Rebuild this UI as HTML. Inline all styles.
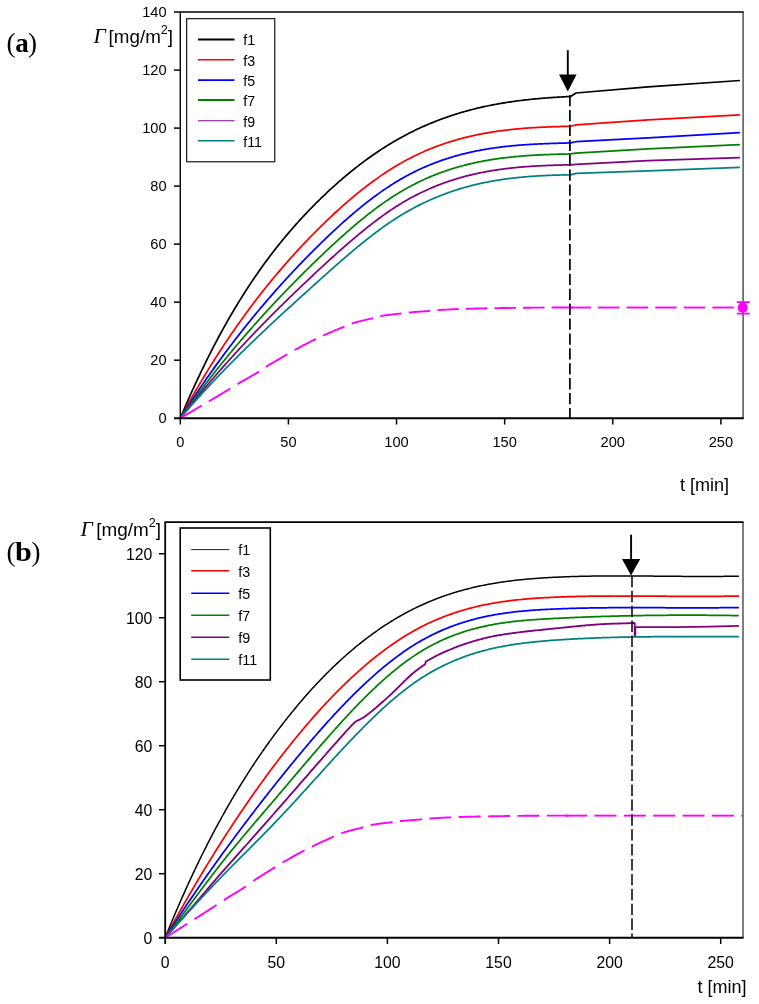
<!DOCTYPE html>
<html><head><meta charset="utf-8"><title>chart</title>
<style>html,body{margin:0;padding:0;background:#fff}svg{display:block;will-change:transform}text{font-family:"Liberation Sans",sans-serif;fill:#000}.se{font-family:"Liberation Serif",serif}</style></head><body>
<svg width="759" height="1004" viewBox="0 0 759 1004">
<rect width="759" height="1004" fill="#fff"/>
<path d="M180.30,418.20 L181.38,415.63 L182.46,413.08 L183.54,410.54 L184.62,408.02 L185.71,405.52 L186.79,403.03 L187.87,400.57 L188.95,398.12 L190.03,395.68 L191.11,393.27 L192.19,390.86 L193.27,388.48 L194.36,386.11 L195.44,383.76 L196.52,381.43 L197.60,379.11 L198.68,376.81 L199.76,374.52 L200.84,372.25 L201.92,370.00 L203.01,367.76 L204.09,365.54 L205.17,363.33 L206.25,361.14 L207.33,358.96 L208.41,356.80 L209.49,354.65 L210.57,352.52 L211.65,350.41 L212.74,348.31 L213.82,346.22 L214.90,344.15 L215.98,342.09 L217.06,340.05 L218.14,338.02 L219.22,336.01 L220.30,334.01 L221.39,332.03 L222.47,330.06 L223.55,328.10 L224.63,326.16 L225.71,324.23 L226.79,322.32 L227.87,320.42 L228.95,318.53 L230.04,316.65 L231.12,314.79 L232.20,312.95 L233.28,311.11 L234.36,309.29 L235.44,307.49 L236.52,305.69 L237.60,303.91 L238.68,302.14 L239.77,300.39 L240.85,298.64 L241.93,296.91 L243.01,295.19 L244.09,293.49 L245.17,291.80 L246.25,290.11 L247.33,288.45 L248.42,286.79 L249.50,285.14 L250.58,283.51 L251.66,281.89 L252.74,280.28 L253.82,278.68 L254.90,277.09 L255.98,275.52 L257.07,273.95 L258.15,272.40 L259.23,270.86 L260.31,269.33 L261.39,267.81 L262.47,266.30 L263.55,264.80 L264.63,263.31 L265.71,261.83 L266.80,260.37 L267.88,258.91 L268.96,257.46 L270.04,256.03 L271.12,254.60 L272.20,253.19 L273.28,251.78 L274.36,250.39 L275.45,249.00 L276.53,247.62 L277.61,246.26 L278.69,244.90 L279.77,243.55 L280.85,242.21 L281.93,240.88 L283.01,239.56 L284.10,238.25 L285.18,236.95 L286.26,235.66 L287.34,234.37 L288.42,233.10 L289.50,231.83 L290.58,230.57 L291.66,229.32 L292.74,228.08 L293.83,226.85 L294.91,225.62 L295.99,224.40 L297.07,223.20 L298.15,221.99 L299.23,220.80 L300.31,219.61 L301.39,218.44 L302.48,217.27 L303.56,216.10 L304.64,214.95 L305.72,213.80 L306.80,212.66 L307.88,211.52 L308.96,210.39 L310.04,209.27 L311.13,208.16 L312.21,207.05 L313.29,205.95 L314.37,204.86 L315.45,203.77 L316.53,202.69 L317.61,201.62 L318.69,200.55 L319.77,199.49 L320.86,198.43 L321.94,197.38 L323.02,196.34 L324.10,195.31 L325.18,194.28 L326.26,193.25 L327.34,192.24 L328.42,191.23 L329.51,190.22 L330.59,189.22 L331.67,188.23 L332.75,187.25 L333.83,186.27 L334.91,185.30 L335.99,184.33 L337.07,183.37 L338.16,182.41 L339.24,181.47 L340.32,180.53 L341.40,179.59 L342.48,178.66 L343.56,177.74 L344.64,176.82 L345.72,175.91 L346.80,175.01 L347.89,174.11 L348.97,173.22 L350.05,172.34 L351.13,171.46 L352.21,170.58 L353.29,169.72 L354.37,168.86 L355.45,168.00 L356.54,167.16 L357.62,166.31 L358.70,165.48 L359.78,164.65 L360.86,163.83 L361.94,163.01 L363.02,162.20 L364.10,161.39 L365.19,160.60 L366.27,159.80 L367.35,159.02 L368.43,158.24 L369.51,157.46 L370.59,156.69 L371.67,155.93 L372.75,155.18 L373.83,154.43 L374.92,153.68 L376.00,152.95 L377.08,152.21 L378.16,151.49 L379.24,150.77 L380.32,150.06 L381.40,149.35 L382.48,148.65 L383.57,147.95 L384.65,147.26 L385.73,146.58 L386.81,145.90 L387.89,145.23 L388.97,144.57 L390.05,143.91 L391.13,143.25 L392.22,142.61 L393.30,141.96 L394.38,141.33 L395.46,140.70 L396.54,140.08 L397.62,139.46 L398.70,138.85 L399.78,138.24 L400.86,137.64 L401.95,137.05 L403.03,136.46 L404.11,135.88 L405.19,135.30 L406.27,134.73 L407.35,134.16 L408.43,133.60 L409.51,133.05 L410.60,132.50 L411.68,131.96 L412.76,131.42 L413.84,130.89 L414.92,130.36 L416.00,129.84 L417.08,129.33 L418.16,128.82 L419.25,128.31 L420.33,127.81 L421.41,127.32 L422.49,126.83 L423.57,126.35 L424.65,125.87 L425.73,125.39 L426.81,124.93 L427.89,124.46 L428.98,124.00 L430.06,123.55 L431.14,123.10 L432.22,122.66 L433.30,122.22 L434.38,121.79 L435.46,121.36 L436.54,120.94 L437.63,120.52 L438.71,120.11 L439.79,119.70 L440.87,119.29 L441.95,118.89 L443.03,118.50 L444.11,118.11 L445.19,117.72 L446.28,117.34 L447.36,116.97 L448.44,116.59 L449.52,116.23 L450.60,115.86 L451.68,115.51 L452.76,115.15 L453.84,114.80 L454.92,114.46 L456.01,114.12 L457.09,113.78 L458.17,113.45 L459.25,113.12 L460.33,112.80 L461.41,112.48 L462.49,112.16 L463.57,111.85 L464.66,111.54 L465.74,111.24 L466.82,110.94 L467.90,110.65 L468.98,110.35 L470.06,110.07 L471.14,109.78 L472.22,109.50 L473.31,109.23 L474.39,108.96 L475.47,108.69 L476.55,108.43 L477.63,108.17 L478.71,107.91 L479.79,107.66 L480.87,107.41 L481.95,107.16 L483.04,106.92 L484.12,106.68 L485.20,106.45 L486.28,106.21 L487.36,105.99 L488.44,105.76 L489.52,105.54 L490.60,105.32 L491.69,105.11 L492.77,104.90 L493.85,104.69 L494.93,104.48 L496.01,104.28 L497.09,104.09 L498.17,103.89 L499.25,103.70 L500.34,103.51 L501.42,103.32 L502.50,103.14 L503.58,102.96 L504.66,102.79 L505.74,102.61 L506.82,102.44 L507.90,102.27 L508.98,102.11 L510.07,101.95 L511.15,101.79 L512.23,101.63 L513.31,101.48 L514.39,101.33 L515.47,101.18 L516.55,101.03 L517.63,100.89 L518.72,100.75 L519.80,100.61 L520.88,100.48 L521.96,100.34 L523.04,100.21 L524.12,100.09 L525.20,99.96 L526.28,99.84 L527.37,99.72 L528.45,99.60 L529.53,99.48 L530.61,99.37 L531.69,99.26 L532.77,99.15 L533.85,99.04 L534.93,98.94 L536.01,98.83 L537.10,98.73 L538.18,98.64 L539.26,98.54 L540.34,98.44 L541.42,98.35 L542.50,98.26 L543.58,98.17 L544.66,98.09 L545.75,98.00 L546.83,97.92 L547.91,97.84 L548.99,97.76 L550.07,97.68 L551.15,97.60 L552.23,97.53 L553.31,97.46 L554.40,97.39 L555.48,97.32 L556.56,97.25 L557.64,97.18 L558.72,97.12 L559.80,97.05 L560.88,96.99 L561.96,96.93 L563.04,96.87 L564.13,96.82 L565.21,96.76 L566.29,96.70 L567.37,96.65 L568.45,96.60 L569.53,96.55 L570.61,96.50 L576.02,93.00 L648.03,86.91 L739.93,80.52" fill="none" stroke="#000000" stroke-width="1.7" stroke-linejoin="round"/>
<path d="M180.30,418.20 L181.38,416.20 L182.46,414.22 L183.54,412.24 L184.62,410.27 L185.71,408.32 L186.79,406.37 L187.87,404.43 L188.95,402.50 L190.03,400.58 L191.11,398.67 L192.19,396.77 L193.27,394.88 L194.36,393.00 L195.44,391.13 L196.52,389.27 L197.60,387.42 L198.68,385.57 L199.76,383.74 L200.84,381.91 L201.92,380.10 L203.01,378.29 L204.09,376.49 L205.17,374.70 L206.25,372.92 L207.33,371.15 L208.41,369.39 L209.49,367.63 L210.57,365.89 L211.65,364.15 L212.74,362.43 L213.82,360.71 L214.90,359.00 L215.98,357.29 L217.06,355.60 L218.14,353.92 L219.22,352.24 L220.30,350.57 L221.39,348.91 L222.47,347.26 L223.55,345.62 L224.63,343.99 L225.71,342.36 L226.79,340.74 L227.87,339.13 L228.95,337.53 L230.04,335.94 L231.12,334.35 L232.20,332.77 L233.28,331.20 L234.36,329.64 L235.44,328.08 L236.52,326.54 L237.60,325.00 L238.68,323.47 L239.77,321.94 L240.85,320.43 L241.93,318.92 L243.01,317.42 L244.09,315.93 L245.17,314.44 L246.25,312.96 L247.33,311.49 L248.42,310.03 L249.50,308.57 L250.58,307.12 L251.66,305.68 L252.74,304.24 L253.82,302.82 L254.90,301.39 L255.98,299.98 L257.07,298.57 L258.15,297.17 L259.23,295.78 L260.31,294.39 L261.39,293.02 L262.47,291.64 L263.55,290.28 L264.63,288.92 L265.71,287.57 L266.80,286.22 L267.88,284.88 L268.96,283.55 L270.04,282.22 L271.12,280.90 L272.20,279.59 L273.28,278.28 L274.36,276.98 L275.45,275.69 L276.53,274.40 L277.61,273.12 L278.69,271.84 L279.77,270.57 L280.85,269.31 L281.93,268.05 L283.01,266.80 L284.10,265.55 L285.18,264.31 L286.26,263.08 L287.34,261.85 L288.42,260.63 L289.50,259.41 L290.58,258.20 L291.66,256.99 L292.74,255.79 L293.83,254.60 L294.91,253.41 L295.99,252.23 L297.07,251.05 L298.15,249.88 L299.23,248.71 L300.31,247.55 L301.39,246.39 L302.48,245.24 L303.56,244.09 L304.64,242.95 L305.72,241.82 L306.80,240.69 L307.88,239.56 L308.96,238.44 L310.04,237.32 L311.13,236.21 L312.21,235.11 L313.29,234.01 L314.37,232.91 L315.45,231.82 L316.53,230.73 L317.61,229.65 L318.69,228.57 L319.77,227.50 L320.86,226.43 L321.94,225.37 L323.02,224.31 L324.10,223.26 L325.18,222.21 L326.26,221.17 L327.34,220.13 L328.42,219.09 L329.51,218.07 L330.59,217.04 L331.67,216.03 L332.75,215.01 L333.83,214.01 L334.91,213.00 L335.99,212.01 L337.07,211.02 L338.16,210.03 L339.24,209.05 L340.32,208.08 L341.40,207.11 L342.48,206.14 L343.56,205.18 L344.64,204.23 L345.72,203.28 L346.80,202.34 L347.89,201.41 L348.97,200.48 L350.05,199.55 L351.13,198.63 L352.21,197.72 L353.29,196.81 L354.37,195.91 L355.45,195.02 L356.54,194.13 L357.62,193.24 L358.70,192.36 L359.78,191.49 L360.86,190.63 L361.94,189.77 L363.02,188.92 L364.10,188.07 L365.19,187.23 L366.27,186.39 L367.35,185.56 L368.43,184.74 L369.51,183.93 L370.59,183.12 L371.67,182.31 L372.75,181.52 L373.83,180.73 L374.92,179.94 L376.00,179.17 L377.08,178.40 L378.16,177.63 L379.24,176.87 L380.32,176.12 L381.40,175.38 L382.48,174.64 L383.57,173.91 L384.65,173.19 L385.73,172.47 L386.81,171.76 L387.89,171.06 L388.97,170.36 L390.05,169.67 L391.13,168.99 L392.22,168.31 L393.30,167.65 L394.38,166.98 L395.46,166.33 L396.54,165.68 L397.62,165.04 L398.70,164.41 L399.78,163.79 L400.86,163.17 L401.95,162.56 L403.03,161.95 L404.11,161.35 L405.19,160.76 L406.27,160.18 L407.35,159.60 L408.43,159.03 L409.51,158.47 L410.60,157.91 L411.68,157.36 L412.76,156.81 L413.84,156.28 L414.92,155.75 L416.00,155.22 L417.08,154.70 L418.16,154.19 L419.25,153.69 L420.33,153.19 L421.41,152.70 L422.49,152.21 L423.57,151.73 L424.65,151.25 L425.73,150.79 L426.81,150.32 L427.89,149.87 L428.98,149.42 L430.06,148.97 L431.14,148.54 L432.22,148.10 L433.30,147.68 L434.38,147.26 L435.46,146.84 L436.54,146.43 L437.63,146.03 L438.71,145.63 L439.79,145.24 L440.87,144.85 L441.95,144.47 L443.03,144.09 L444.11,143.72 L445.19,143.35 L446.28,142.99 L447.36,142.64 L448.44,142.29 L449.52,141.94 L450.60,141.61 L451.68,141.27 L452.76,140.94 L453.84,140.62 L454.92,140.30 L456.01,139.98 L457.09,139.67 L458.17,139.37 L459.25,139.07 L460.33,138.78 L461.41,138.48 L462.49,138.20 L463.57,137.92 L464.66,137.64 L465.74,137.37 L466.82,137.10 L467.90,136.84 L468.98,136.58 L470.06,136.33 L471.14,136.08 L472.22,135.83 L473.31,135.59 L474.39,135.36 L475.47,135.12 L476.55,134.89 L477.63,134.67 L478.71,134.45 L479.79,134.23 L480.87,134.02 L481.95,133.81 L483.04,133.61 L484.12,133.41 L485.20,133.21 L486.28,133.02 L487.36,132.83 L488.44,132.64 L489.52,132.46 L490.60,132.28 L491.69,132.11 L492.77,131.94 L493.85,131.77 L494.93,131.61 L496.01,131.45 L497.09,131.29 L498.17,131.13 L499.25,130.98 L500.34,130.84 L501.42,130.69 L502.50,130.55 L503.58,130.41 L504.66,130.28 L505.74,130.15 L506.82,130.02 L507.90,129.89 L508.98,129.77 L510.07,129.65 L511.15,129.53 L512.23,129.42 L513.31,129.30 L514.39,129.19 L515.47,129.09 L516.55,128.98 L517.63,128.88 L518.72,128.78 L519.80,128.69 L520.88,128.59 L521.96,128.50 L523.04,128.41 L524.12,128.33 L525.20,128.24 L526.28,128.16 L527.37,128.08 L528.45,128.00 L529.53,127.93 L530.61,127.85 L531.69,127.78 L532.77,127.71 L533.85,127.65 L534.93,127.58 L536.01,127.52 L537.10,127.46 L538.18,127.40 L539.26,127.34 L540.34,127.28 L541.42,127.23 L542.50,127.17 L543.58,127.12 L544.66,127.07 L545.75,127.02 L546.83,126.98 L547.91,126.93 L548.99,126.89 L550.07,126.84 L551.15,126.80 L552.23,126.76 L553.31,126.72 L554.40,126.68 L555.48,126.65 L556.56,126.61 L557.64,126.58 L558.72,126.54 L559.80,126.51 L560.88,126.48 L561.96,126.45 L563.04,126.42 L564.13,126.39 L565.21,126.36 L566.29,126.33 L567.37,126.31 L568.45,126.28 L569.53,126.25 L570.61,126.23 L576.02,124.91 L648.03,119.83 L739.93,114.76" fill="none" stroke="#ff0000" stroke-width="1.75" stroke-linejoin="round"/>
<path d="M180.30,418.20 L181.38,416.50 L182.46,414.80 L183.54,413.11 L184.62,411.43 L185.71,409.75 L186.79,408.08 L187.87,406.42 L188.95,404.76 L190.03,403.11 L191.11,401.47 L192.19,399.83 L193.27,398.20 L194.36,396.58 L195.44,394.96 L196.52,393.35 L197.60,391.74 L198.68,390.14 L199.76,388.55 L200.84,386.96 L201.92,385.38 L203.01,383.80 L204.09,382.23 L205.17,380.67 L206.25,379.11 L207.33,377.56 L208.41,376.02 L209.49,374.48 L210.57,372.95 L211.65,371.42 L212.74,369.90 L213.82,368.38 L214.90,366.87 L215.98,365.37 L217.06,363.87 L218.14,362.38 L219.22,360.89 L220.30,359.41 L221.39,357.94 L222.47,356.47 L223.55,355.01 L224.63,353.55 L225.71,352.10 L226.79,350.65 L227.87,349.21 L228.95,347.77 L230.04,346.34 L231.12,344.92 L232.20,343.50 L233.28,342.08 L234.36,340.68 L235.44,339.27 L236.52,337.88 L237.60,336.48 L238.68,335.10 L239.77,333.71 L240.85,332.34 L241.93,330.97 L243.01,329.60 L244.09,328.24 L245.17,326.88 L246.25,325.53 L247.33,324.19 L248.42,322.85 L249.50,321.51 L250.58,320.18 L251.66,318.85 L252.74,317.53 L253.82,316.22 L254.90,314.91 L255.98,313.60 L257.07,312.30 L258.15,311.00 L259.23,309.71 L260.31,308.43 L261.39,307.14 L262.47,305.87 L263.55,304.59 L264.63,303.33 L265.71,302.06 L266.80,300.81 L267.88,299.55 L268.96,298.30 L270.04,297.06 L271.12,295.82 L272.20,294.58 L273.28,293.35 L274.36,292.12 L275.45,290.90 L276.53,289.68 L277.61,288.47 L278.69,287.26 L279.77,286.06 L280.85,284.85 L281.93,283.66 L283.01,282.47 L284.10,281.28 L285.18,280.09 L286.26,278.91 L287.34,277.74 L288.42,276.57 L289.50,275.40 L290.58,274.24 L291.66,273.08 L292.74,271.92 L293.83,270.77 L294.91,269.63 L295.99,268.48 L297.07,267.34 L298.15,266.21 L299.23,265.08 L300.31,263.95 L301.39,262.83 L302.48,261.71 L303.56,260.59 L304.64,259.48 L305.72,258.37 L306.80,257.26 L307.88,256.16 L308.96,255.06 L310.04,253.97 L311.13,252.88 L312.21,251.79 L313.29,250.71 L314.37,249.63 L315.45,248.55 L316.53,247.48 L317.61,246.41 L318.69,245.34 L319.77,244.28 L320.86,243.22 L321.94,242.17 L323.02,241.12 L324.10,240.07 L325.18,239.03 L326.26,237.99 L327.34,236.95 L328.42,235.92 L329.51,234.89 L330.59,233.87 L331.67,232.85 L332.75,231.84 L333.83,230.83 L334.91,229.82 L335.99,228.82 L337.07,227.83 L338.16,226.84 L339.24,225.85 L340.32,224.87 L341.40,223.89 L342.48,222.92 L343.56,221.95 L344.64,220.99 L345.72,220.03 L346.80,219.08 L347.89,218.13 L348.97,217.19 L350.05,216.25 L351.13,215.32 L352.21,214.39 L353.29,213.47 L354.37,212.56 L355.45,211.64 L356.54,210.74 L357.62,209.84 L358.70,208.95 L359.78,208.06 L360.86,207.18 L361.94,206.30 L363.02,205.43 L364.10,204.57 L365.19,203.71 L366.27,202.86 L367.35,202.01 L368.43,201.17 L369.51,200.34 L370.59,199.51 L371.67,198.69 L372.75,197.88 L373.83,197.07 L374.92,196.27 L376.00,195.47 L377.08,194.68 L378.16,193.90 L379.24,193.13 L380.32,192.36 L381.40,191.60 L382.48,190.84 L383.57,190.09 L384.65,189.35 L385.73,188.62 L386.81,187.89 L387.89,187.17 L388.97,186.46 L390.05,185.76 L391.13,185.06 L392.22,184.37 L393.30,183.69 L394.38,183.01 L395.46,182.35 L396.54,181.69 L397.62,181.03 L398.70,180.39 L399.78,179.75 L400.86,179.12 L401.95,178.50 L403.03,177.89 L404.11,177.28 L405.19,176.68 L406.27,176.09 L407.35,175.50 L408.43,174.92 L409.51,174.35 L410.60,173.79 L411.68,173.23 L412.76,172.68 L413.84,172.14 L414.92,171.60 L416.00,171.07 L417.08,170.55 L418.16,170.03 L419.25,169.53 L420.33,169.02 L421.41,168.53 L422.49,168.04 L423.57,167.56 L424.65,167.08 L425.73,166.61 L426.81,166.15 L427.89,165.69 L428.98,165.24 L430.06,164.80 L431.14,164.36 L432.22,163.93 L433.30,163.50 L434.38,163.08 L435.46,162.67 L436.54,162.26 L437.63,161.86 L438.71,161.46 L439.79,161.07 L440.87,160.69 L441.95,160.31 L443.03,159.94 L444.11,159.57 L445.19,159.21 L446.28,158.86 L447.36,158.50 L448.44,158.16 L449.52,157.82 L450.60,157.49 L451.68,157.16 L452.76,156.83 L453.84,156.52 L454.92,156.20 L456.01,155.90 L457.09,155.59 L458.17,155.29 L459.25,155.00 L460.33,154.71 L461.41,154.43 L462.49,154.15 L463.57,153.88 L464.66,153.61 L465.74,153.35 L466.82,153.09 L467.90,152.83 L468.98,152.59 L470.06,152.34 L471.14,152.10 L472.22,151.86 L473.31,151.63 L474.39,151.40 L475.47,151.18 L476.55,150.96 L477.63,150.75 L478.71,150.54 L479.79,150.33 L480.87,150.13 L481.95,149.93 L483.04,149.73 L484.12,149.54 L485.20,149.36 L486.28,149.17 L487.36,148.99 L488.44,148.82 L489.52,148.65 L490.60,148.48 L491.69,148.32 L492.77,148.15 L493.85,148.00 L494.93,147.84 L496.01,147.69 L497.09,147.55 L498.17,147.40 L499.25,147.26 L500.34,147.12 L501.42,146.99 L502.50,146.86 L503.58,146.73 L504.66,146.61 L505.74,146.49 L506.82,146.37 L507.90,146.25 L508.98,146.14 L510.07,146.03 L511.15,145.92 L512.23,145.82 L513.31,145.71 L514.39,145.61 L515.47,145.52 L516.55,145.42 L517.63,145.33 L518.72,145.24 L519.80,145.15 L520.88,145.07 L521.96,144.99 L523.04,144.91 L524.12,144.83 L525.20,144.75 L526.28,144.68 L527.37,144.61 L528.45,144.54 L529.53,144.47 L530.61,144.41 L531.69,144.34 L532.77,144.28 L533.85,144.22 L534.93,144.16 L536.01,144.11 L537.10,144.05 L538.18,144.00 L539.26,143.95 L540.34,143.90 L541.42,143.85 L542.50,143.80 L543.58,143.75 L544.66,143.71 L545.75,143.66 L546.83,143.62 L547.91,143.58 L548.99,143.54 L550.07,143.50 L551.15,143.46 L552.23,143.43 L553.31,143.39 L554.40,143.36 L555.48,143.32 L556.56,143.29 L557.64,143.26 L558.72,143.22 L559.80,143.19 L560.88,143.16 L561.96,143.13 L563.04,143.10 L564.13,143.07 L565.21,143.05 L566.29,143.02 L567.37,142.99 L568.45,142.96 L569.53,142.94 L570.61,142.91 L576.02,141.73 L648.03,137.82 L739.93,132.74" fill="none" stroke="#0000ff" stroke-width="1.75" stroke-linejoin="round"/>
<path d="M180.30,418.20 L181.38,416.68 L182.46,415.16 L183.54,413.65 L184.62,412.14 L185.71,410.64 L186.79,409.14 L187.87,407.65 L188.95,406.17 L190.03,404.69 L191.11,403.21 L192.19,401.74 L193.27,400.27 L194.36,398.81 L195.44,397.36 L196.52,395.91 L197.60,394.46 L198.68,393.02 L199.76,391.58 L200.84,390.15 L201.92,388.73 L203.01,387.31 L204.09,385.89 L205.17,384.48 L206.25,383.07 L207.33,381.67 L208.41,380.27 L209.49,378.88 L210.57,377.49 L211.65,376.11 L212.74,374.73 L213.82,373.36 L214.90,371.99 L215.98,370.62 L217.06,369.26 L218.14,367.91 L219.22,366.55 L220.30,365.21 L221.39,363.86 L222.47,362.53 L223.55,361.19 L224.63,359.86 L225.71,358.54 L226.79,357.22 L227.87,355.90 L228.95,354.59 L230.04,353.28 L231.12,351.98 L232.20,350.68 L233.28,349.38 L234.36,348.09 L235.44,346.80 L236.52,345.52 L237.60,344.24 L238.68,342.97 L239.77,341.70 L240.85,340.43 L241.93,339.17 L243.01,337.91 L244.09,336.65 L245.17,335.40 L246.25,334.15 L247.33,332.91 L248.42,331.67 L249.50,330.43 L250.58,329.20 L251.66,327.97 L252.74,326.75 L253.82,325.53 L254.90,324.31 L255.98,323.10 L257.07,321.89 L258.15,320.68 L259.23,319.48 L260.31,318.28 L261.39,317.09 L262.47,315.89 L263.55,314.70 L264.63,313.52 L265.71,312.34 L266.80,311.16 L267.88,309.99 L268.96,308.81 L270.04,307.65 L271.12,306.48 L272.20,305.32 L273.28,304.16 L274.36,303.01 L275.45,301.86 L276.53,300.71 L277.61,299.56 L278.69,298.42 L279.77,297.28 L280.85,296.14 L281.93,295.01 L283.01,293.88 L284.10,292.76 L285.18,291.63 L286.26,290.51 L287.34,289.39 L288.42,288.28 L289.50,287.17 L290.58,286.06 L291.66,284.95 L292.74,283.85 L293.83,282.75 L294.91,281.65 L295.99,280.55 L297.07,279.46 L298.15,278.37 L299.23,277.29 L300.31,276.20 L301.39,275.12 L302.48,274.04 L303.56,272.97 L304.64,271.89 L305.72,270.82 L306.80,269.75 L307.88,268.69 L308.96,267.62 L310.04,266.56 L311.13,265.50 L312.21,264.45 L313.29,263.39 L314.37,262.34 L315.45,261.29 L316.53,260.25 L317.61,259.20 L318.69,258.16 L319.77,257.12 L320.86,256.08 L321.94,255.05 L323.02,254.02 L324.10,252.99 L325.18,251.97 L326.26,250.94 L327.34,249.92 L328.42,248.91 L329.51,247.89 L330.59,246.88 L331.67,245.88 L332.75,244.87 L333.83,243.88 L334.91,242.88 L335.99,241.89 L337.07,240.90 L338.16,239.91 L339.24,238.93 L340.32,237.96 L341.40,236.98 L342.48,236.01 L343.56,235.05 L344.64,234.09 L345.72,233.13 L346.80,232.18 L347.89,231.23 L348.97,230.29 L350.05,229.35 L351.13,228.41 L352.21,227.48 L353.29,226.56 L354.37,225.64 L355.45,224.73 L356.54,223.82 L357.62,222.91 L358.70,222.01 L359.78,221.12 L360.86,220.23 L361.94,219.34 L363.02,218.46 L364.10,217.59 L365.19,216.72 L366.27,215.86 L367.35,215.00 L368.43,214.15 L369.51,213.31 L370.59,212.47 L371.67,211.64 L372.75,210.81 L373.83,209.99 L374.92,209.17 L376.00,208.37 L377.08,207.56 L378.16,206.77 L379.24,205.98 L380.32,205.20 L381.40,204.42 L382.48,203.65 L383.57,202.89 L384.65,202.13 L385.73,201.38 L386.81,200.64 L387.89,199.91 L388.97,199.18 L390.05,198.46 L391.13,197.74 L392.22,197.04 L393.30,196.34 L394.38,195.65 L395.46,194.96 L396.54,194.29 L397.62,193.62 L398.70,192.96 L399.78,192.30 L400.86,191.66 L401.95,191.02 L403.03,190.39 L404.11,189.76 L405.19,189.15 L406.27,188.54 L407.35,187.94 L408.43,187.34 L409.51,186.75 L410.60,186.17 L411.68,185.60 L412.76,185.03 L413.84,184.47 L414.92,183.92 L416.00,183.37 L417.08,182.84 L418.16,182.30 L419.25,181.78 L420.33,181.26 L421.41,180.75 L422.49,180.24 L423.57,179.74 L424.65,179.25 L425.73,178.77 L426.81,178.29 L427.89,177.81 L428.98,177.35 L430.06,176.89 L431.14,176.43 L432.22,175.98 L433.30,175.54 L434.38,175.11 L435.46,174.68 L436.54,174.25 L437.63,173.84 L438.71,173.43 L439.79,173.02 L440.87,172.62 L441.95,172.23 L443.03,171.84 L444.11,171.46 L445.19,171.08 L446.28,170.71 L447.36,170.34 L448.44,169.98 L449.52,169.63 L450.60,169.28 L451.68,168.93 L452.76,168.60 L453.84,168.26 L454.92,167.93 L456.01,167.61 L457.09,167.29 L458.17,166.98 L459.25,166.68 L460.33,166.37 L461.41,166.08 L462.49,165.78 L463.57,165.50 L464.66,165.21 L465.74,164.94 L466.82,164.66 L467.90,164.40 L468.98,164.13 L470.06,163.87 L471.14,163.62 L472.22,163.37 L473.31,163.13 L474.39,162.88 L475.47,162.65 L476.55,162.42 L477.63,162.19 L478.71,161.97 L479.79,161.75 L480.87,161.53 L481.95,161.32 L483.04,161.12 L484.12,160.91 L485.20,160.71 L486.28,160.52 L487.36,160.33 L488.44,160.14 L489.52,159.96 L490.60,159.78 L491.69,159.61 L492.77,159.44 L493.85,159.27 L494.93,159.10 L496.01,158.94 L497.09,158.79 L498.17,158.63 L499.25,158.48 L500.34,158.33 L501.42,158.19 L502.50,158.05 L503.58,157.91 L504.66,157.78 L505.74,157.65 L506.82,157.52 L507.90,157.40 L508.98,157.28 L510.07,157.16 L511.15,157.04 L512.23,156.93 L513.31,156.82 L514.39,156.72 L515.47,156.61 L516.55,156.51 L517.63,156.41 L518.72,156.32 L519.80,156.22 L520.88,156.13 L521.96,156.04 L523.04,155.96 L524.12,155.87 L525.20,155.79 L526.28,155.71 L527.37,155.64 L528.45,155.56 L529.53,155.49 L530.61,155.42 L531.69,155.35 L532.77,155.29 L533.85,155.22 L534.93,155.16 L536.01,155.10 L537.10,155.04 L538.18,154.99 L539.26,154.93 L540.34,154.88 L541.42,154.83 L542.50,154.78 L543.58,154.73 L544.66,154.69 L545.75,154.64 L546.83,154.60 L547.91,154.56 L548.99,154.52 L550.07,154.48 L551.15,154.44 L552.23,154.41 L553.31,154.37 L554.40,154.34 L555.48,154.30 L556.56,154.27 L557.64,154.24 L558.72,154.21 L559.80,154.18 L560.88,154.15 L561.96,154.13 L563.04,154.10 L564.13,154.07 L565.21,154.05 L566.29,154.03 L567.37,154.00 L568.45,153.98 L569.53,153.96 L570.61,153.93 L576.02,153.05 L648.03,148.84 L739.93,144.64" fill="none" stroke="#008000" stroke-width="1.75" stroke-linejoin="round"/>
<path d="M180.30,418.20 L181.38,416.82 L182.46,415.45 L183.54,414.08 L184.62,412.71 L185.71,411.35 L186.79,410.00 L187.87,408.65 L188.95,407.30 L190.03,405.96 L191.11,404.62 L192.19,403.28 L193.27,401.95 L194.36,400.63 L195.44,399.31 L196.52,397.99 L197.60,396.68 L198.68,395.37 L199.76,394.06 L200.84,392.76 L201.92,391.47 L203.01,390.17 L204.09,388.89 L205.17,387.60 L206.25,386.32 L207.33,385.05 L208.41,383.77 L209.49,382.51 L210.57,381.24 L211.65,379.98 L212.74,378.72 L213.82,377.47 L214.90,376.22 L215.98,374.98 L217.06,373.73 L218.14,372.50 L219.22,371.26 L220.30,370.03 L221.39,368.80 L222.47,367.58 L223.55,366.36 L224.63,365.14 L225.71,363.93 L226.79,362.72 L227.87,361.52 L228.95,360.31 L230.04,359.11 L231.12,357.92 L232.20,356.73 L233.28,355.54 L234.36,354.35 L235.44,353.17 L236.52,351.99 L237.60,350.81 L238.68,349.64 L239.77,348.47 L240.85,347.31 L241.93,346.14 L243.01,344.98 L244.09,343.83 L245.17,342.67 L246.25,341.52 L247.33,340.37 L248.42,339.23 L249.50,338.09 L250.58,336.95 L251.66,335.81 L252.74,334.68 L253.82,333.55 L254.90,332.42 L255.98,331.29 L257.07,330.17 L258.15,329.05 L259.23,327.94 L260.31,326.82 L261.39,325.71 L262.47,324.60 L263.55,323.50 L264.63,322.39 L265.71,321.29 L266.80,320.19 L267.88,319.10 L268.96,318.00 L270.04,316.91 L271.12,315.82 L272.20,314.74 L273.28,313.65 L274.36,312.57 L275.45,311.49 L276.53,310.42 L277.61,309.34 L278.69,308.27 L279.77,307.20 L280.85,306.13 L281.93,305.07 L283.01,304.00 L284.10,302.94 L285.18,301.88 L286.26,300.82 L287.34,299.77 L288.42,298.72 L289.50,297.67 L290.58,296.62 L291.66,295.57 L292.74,294.52 L293.83,293.48 L294.91,292.44 L295.99,291.40 L297.07,290.36 L298.15,289.32 L299.23,288.29 L300.31,287.26 L301.39,286.23 L302.48,285.20 L303.56,284.17 L304.64,283.14 L305.72,282.12 L306.80,281.09 L307.88,280.07 L308.96,279.05 L310.04,278.03 L311.13,277.02 L312.21,276.00 L313.29,274.99 L314.37,273.98 L315.45,272.96 L316.53,271.95 L317.61,270.95 L318.69,269.94 L319.77,268.93 L320.86,267.93 L321.94,266.93 L323.02,265.93 L324.10,264.93 L325.18,263.93 L326.26,262.94 L327.34,261.95 L328.42,260.96 L329.51,259.97 L330.59,258.98 L331.67,258.00 L332.75,257.02 L333.83,256.04 L334.91,255.07 L335.99,254.09 L337.07,253.12 L338.16,252.16 L339.24,251.19 L340.32,250.23 L341.40,249.27 L342.48,248.32 L343.56,247.37 L344.64,246.42 L345.72,245.47 L346.80,244.53 L347.89,243.60 L348.97,242.66 L350.05,241.73 L351.13,240.80 L352.21,239.88 L353.29,238.96 L354.37,238.05 L355.45,237.13 L356.54,236.23 L357.62,235.32 L358.70,234.43 L359.78,233.53 L360.86,232.64 L361.94,231.76 L363.02,230.88 L364.10,230.00 L365.19,229.13 L366.27,228.26 L367.35,227.40 L368.43,226.54 L369.51,225.69 L370.59,224.84 L371.67,224.00 L372.75,223.17 L373.83,222.33 L374.92,221.51 L376.00,220.69 L377.08,219.87 L378.16,219.07 L379.24,218.26 L380.32,217.47 L381.40,216.68 L382.48,215.89 L383.57,215.12 L384.65,214.35 L385.73,213.58 L386.81,212.82 L387.89,212.07 L388.97,211.33 L390.05,210.59 L391.13,209.86 L392.22,209.14 L393.30,208.42 L394.38,207.72 L395.46,207.02 L396.54,206.32 L397.62,205.64 L398.70,204.96 L399.78,204.29 L400.86,203.63 L401.95,202.98 L403.03,202.33 L404.11,201.69 L405.19,201.06 L406.27,200.44 L407.35,199.82 L408.43,199.21 L409.51,198.61 L410.60,198.02 L411.68,197.43 L412.76,196.85 L413.84,196.27 L414.92,195.71 L416.00,195.15 L417.08,194.60 L418.16,194.05 L419.25,193.51 L420.33,192.98 L421.41,192.46 L422.49,191.94 L423.57,191.43 L424.65,190.92 L425.73,190.42 L426.81,189.93 L427.89,189.45 L428.98,188.97 L430.06,188.50 L431.14,188.03 L432.22,187.57 L433.30,187.12 L434.38,186.67 L435.46,186.23 L436.54,185.79 L437.63,185.36 L438.71,184.94 L439.79,184.53 L440.87,184.12 L441.95,183.71 L443.03,183.31 L444.11,182.92 L445.19,182.53 L446.28,182.15 L447.36,181.77 L448.44,181.40 L449.52,181.04 L450.60,180.68 L451.68,180.33 L452.76,179.98 L453.84,179.64 L454.92,179.30 L456.01,178.97 L457.09,178.64 L458.17,178.32 L459.25,178.00 L460.33,177.69 L461.41,177.39 L462.49,177.09 L463.57,176.79 L464.66,176.50 L465.74,176.21 L466.82,175.93 L467.90,175.66 L468.98,175.38 L470.06,175.12 L471.14,174.86 L472.22,174.60 L473.31,174.35 L474.39,174.10 L475.47,173.85 L476.55,173.62 L477.63,173.38 L478.71,173.15 L479.79,172.92 L480.87,172.70 L481.95,172.49 L483.04,172.27 L484.12,172.06 L485.20,171.86 L486.28,171.66 L487.36,171.46 L488.44,171.27 L489.52,171.08 L490.60,170.89 L491.69,170.71 L492.77,170.54 L493.85,170.36 L494.93,170.19 L496.01,170.03 L497.09,169.86 L498.17,169.70 L499.25,169.55 L500.34,169.40 L501.42,169.25 L502.50,169.10 L503.58,168.96 L504.66,168.82 L505.74,168.69 L506.82,168.55 L507.90,168.43 L508.98,168.30 L510.07,168.18 L511.15,168.06 L512.23,167.94 L513.31,167.83 L514.39,167.71 L515.47,167.61 L516.55,167.50 L517.63,167.40 L518.72,167.30 L519.80,167.20 L520.88,167.11 L521.96,167.02 L523.04,166.93 L524.12,166.84 L525.20,166.75 L526.28,166.67 L527.37,166.59 L528.45,166.52 L529.53,166.44 L530.61,166.37 L531.69,166.30 L532.77,166.23 L533.85,166.16 L534.93,166.10 L536.01,166.03 L537.10,165.97 L538.18,165.91 L539.26,165.86 L540.34,165.80 L541.42,165.75 L542.50,165.70 L543.58,165.65 L544.66,165.60 L545.75,165.55 L546.83,165.51 L547.91,165.46 L548.99,165.42 L550.07,165.38 L551.15,165.34 L552.23,165.30 L553.31,165.27 L554.40,165.23 L555.48,165.20 L556.56,165.16 L557.64,165.13 L558.72,165.10 L559.80,165.07 L560.88,165.04 L561.96,165.01 L563.04,164.98 L564.13,164.96 L565.21,164.93 L566.29,164.90 L567.37,164.88 L568.45,164.86 L569.53,164.83 L570.61,164.81 L576.02,164.36 L648.03,160.59 L739.93,157.69" fill="none" stroke="#800080" stroke-width="1.75" stroke-linejoin="round"/>
<path d="M180.30,418.20 L181.38,416.93 L182.46,415.67 L183.54,414.41 L184.62,413.16 L185.71,411.91 L186.79,410.66 L187.87,409.42 L188.95,408.18 L190.03,406.95 L191.11,405.72 L192.19,404.50 L193.27,403.28 L194.36,402.06 L195.44,400.85 L196.52,399.64 L197.60,398.44 L198.68,397.24 L199.76,396.05 L200.84,394.85 L201.92,393.67 L203.01,392.48 L204.09,391.30 L205.17,390.13 L206.25,388.96 L207.33,387.79 L208.41,386.62 L209.49,385.46 L210.57,384.31 L211.65,383.15 L212.74,382.00 L213.82,380.86 L214.90,379.71 L215.98,378.57 L217.06,377.44 L218.14,376.30 L219.22,375.17 L220.30,374.05 L221.39,372.93 L222.47,371.81 L223.55,370.69 L224.63,369.58 L225.71,368.47 L226.79,367.36 L227.87,366.26 L228.95,365.16 L230.04,364.06 L231.12,362.96 L232.20,361.87 L233.28,360.78 L234.36,359.70 L235.44,358.61 L236.52,357.53 L237.60,356.45 L238.68,355.38 L239.77,354.31 L240.85,353.24 L241.93,352.17 L243.01,351.11 L244.09,350.04 L245.17,348.98 L246.25,347.93 L247.33,346.87 L248.42,345.82 L249.50,344.77 L250.58,343.72 L251.66,342.68 L252.74,341.63 L253.82,340.59 L254.90,339.55 L255.98,338.52 L257.07,337.48 L258.15,336.45 L259.23,335.42 L260.31,334.39 L261.39,333.37 L262.47,332.34 L263.55,331.32 L264.63,330.30 L265.71,329.28 L266.80,328.26 L267.88,327.25 L268.96,326.23 L270.04,325.22 L271.12,324.21 L272.20,323.20 L273.28,322.20 L274.36,321.19 L275.45,320.19 L276.53,319.19 L277.61,318.18 L278.69,317.18 L279.77,316.19 L280.85,315.19 L281.93,314.19 L283.01,313.20 L284.10,312.21 L285.18,311.21 L286.26,310.22 L287.34,309.23 L288.42,308.24 L289.50,307.26 L290.58,306.27 L291.66,305.28 L292.74,304.30 L293.83,303.32 L294.91,302.33 L295.99,301.35 L297.07,300.37 L298.15,299.39 L299.23,298.41 L300.31,297.43 L301.39,296.45 L302.48,295.47 L303.56,294.50 L304.64,293.52 L305.72,292.54 L306.80,291.57 L307.88,290.59 L308.96,289.62 L310.04,288.64 L311.13,287.67 L312.21,286.69 L313.29,285.72 L314.37,284.75 L315.45,283.77 L316.53,282.80 L317.61,281.83 L318.69,280.85 L319.77,279.88 L320.86,278.91 L321.94,277.94 L323.02,276.97 L324.10,276.00 L325.18,275.03 L326.26,274.07 L327.34,273.10 L328.42,272.13 L329.51,271.17 L330.59,270.21 L331.67,269.25 L332.75,268.29 L333.83,267.33 L334.91,266.38 L335.99,265.43 L337.07,264.47 L338.16,263.52 L339.24,262.58 L340.32,261.63 L341.40,260.69 L342.48,259.75 L343.56,258.81 L344.64,257.88 L345.72,256.95 L346.80,256.02 L347.89,255.09 L348.97,254.17 L350.05,253.25 L351.13,252.33 L352.21,251.42 L353.29,250.51 L354.37,249.61 L355.45,248.70 L356.54,247.80 L357.62,246.91 L358.70,246.02 L359.78,245.13 L360.86,244.25 L361.94,243.37 L363.02,242.50 L364.10,241.63 L365.19,240.76 L366.27,239.90 L367.35,239.04 L368.43,238.19 L369.51,237.34 L370.59,236.50 L371.67,235.67 L372.75,234.84 L373.83,234.01 L374.92,233.19 L376.00,232.37 L377.08,231.56 L378.16,230.76 L379.24,229.96 L380.32,229.17 L381.40,228.38 L382.48,227.60 L383.57,226.83 L384.65,226.06 L385.73,225.30 L386.81,224.54 L387.89,223.79 L388.97,223.05 L390.05,222.31 L391.13,221.58 L392.22,220.86 L393.30,220.15 L394.38,219.44 L395.46,218.74 L396.54,218.04 L397.62,217.36 L398.70,216.68 L399.78,216.00 L400.86,215.34 L401.95,214.68 L403.03,214.03 L404.11,213.39 L405.19,212.75 L406.27,212.12 L407.35,211.50 L408.43,210.88 L409.51,210.28 L410.60,209.67 L411.68,209.08 L412.76,208.49 L413.84,207.91 L414.92,207.33 L416.00,206.77 L417.08,206.21 L418.16,205.65 L419.25,205.10 L420.33,204.56 L421.41,204.03 L422.49,203.50 L423.57,202.97 L424.65,202.46 L425.73,201.95 L426.81,201.44 L427.89,200.95 L428.98,200.46 L430.06,199.97 L431.14,199.49 L432.22,199.02 L433.30,198.55 L434.38,198.09 L435.46,197.64 L436.54,197.19 L437.63,196.75 L438.71,196.31 L439.79,195.88 L440.87,195.45 L441.95,195.03 L443.03,194.62 L444.11,194.21 L445.19,193.81 L446.28,193.41 L447.36,193.02 L448.44,192.63 L449.52,192.25 L450.60,191.87 L451.68,191.50 L452.76,191.14 L453.84,190.78 L454.92,190.43 L456.01,190.08 L457.09,189.73 L458.17,189.40 L459.25,189.06 L460.33,188.73 L461.41,188.41 L462.49,188.09 L463.57,187.78 L464.66,187.47 L465.74,187.17 L466.82,186.87 L467.90,186.57 L468.98,186.29 L470.06,186.00 L471.14,185.72 L472.22,185.45 L473.31,185.18 L474.39,184.91 L475.47,184.65 L476.55,184.39 L477.63,184.14 L478.71,183.89 L479.79,183.65 L480.87,183.41 L481.95,183.17 L483.04,182.94 L484.12,182.72 L485.20,182.49 L486.28,182.28 L487.36,182.06 L488.44,181.85 L489.52,181.64 L490.60,181.44 L491.69,181.24 L492.77,181.05 L493.85,180.86 L494.93,180.67 L496.01,180.49 L497.09,180.31 L498.17,180.14 L499.25,179.97 L500.34,179.80 L501.42,179.63 L502.50,179.47 L503.58,179.31 L504.66,179.16 L505.74,179.01 L506.82,178.86 L507.90,178.72 L508.98,178.58 L510.07,178.44 L511.15,178.31 L512.23,178.18 L513.31,178.05 L514.39,177.93 L515.47,177.81 L516.55,177.69 L517.63,177.57 L518.72,177.46 L519.80,177.35 L520.88,177.25 L521.96,177.14 L523.04,177.04 L524.12,176.94 L525.20,176.85 L526.28,176.76 L527.37,176.67 L528.45,176.58 L529.53,176.49 L530.61,176.41 L531.69,176.33 L532.77,176.26 L533.85,176.18 L534.93,176.11 L536.01,176.04 L537.10,175.97 L538.18,175.91 L539.26,175.85 L540.34,175.78 L541.42,175.73 L542.50,175.67 L543.58,175.62 L544.66,175.56 L545.75,175.51 L546.83,175.46 L547.91,175.42 L548.99,175.37 L550.07,175.33 L551.15,175.29 L552.23,175.25 L553.31,175.21 L554.40,175.18 L555.48,175.14 L556.56,175.11 L557.64,175.08 L558.72,175.05 L559.80,175.02 L560.88,175.00 L561.96,174.97 L563.04,174.95 L564.13,174.93 L565.21,174.91 L566.29,174.89 L567.37,174.87 L568.45,174.85 L569.53,174.84 L570.61,174.82 L576.02,173.36 L648.03,170.89 L739.93,167.26" fill="none" stroke="#008080" stroke-width="1.75" stroke-linejoin="round"/>
<path d="M180.30,418.20 L181.38,417.57 L182.46,416.93 L183.54,416.30 L184.62,415.66 L185.71,415.03 L186.79,414.39 L187.87,413.76 L188.95,413.12 L190.03,412.48 L191.11,411.85 L192.19,411.21 L193.27,410.57 L194.36,409.94 L195.44,409.30 L196.52,408.66 L197.60,408.02 L198.68,407.39 L199.76,406.75 L200.84,406.11 L201.71,405.60" fill="none" stroke="#ff00ff" stroke-width="1.9"/>
<path d="M208.87,401.36 L209.95,400.72 L211.03,400.07 L212.11,399.43 L213.19,398.79 L214.27,398.14 L215.35,397.50 L216.43,396.85 L217.51,396.20 L218.60,395.56 L219.68,394.91 L220.76,394.26 L221.84,393.61 L222.92,392.96 L224.00,392.31 L225.08,391.66 L226.16,391.00 L227.25,390.35 L228.33,389.69 L229.41,389.03 L230.27,388.50" fill="none" stroke="#ff00ff" stroke-width="1.9"/>
<path d="M237.43,384.09 L238.51,383.44 L239.59,382.81 L240.67,382.18 L241.76,381.56 L242.84,380.94 L243.92,380.33 L245.00,379.72 L246.08,379.11 L247.16,378.50 L248.24,377.89 L249.32,377.28 L250.41,376.66 L251.49,376.04 L252.57,375.42 L253.65,374.79 L254.73,374.15 L255.81,373.50 L256.89,372.84 L257.97,372.17 L258.84,371.63" fill="none" stroke="#ff00ff" stroke-width="1.9"/>
<path d="M266.00,366.81 L267.08,366.13 L268.16,365.46 L269.24,364.80 L270.32,364.14 L271.40,363.49 L272.48,362.85 L273.56,362.21 L274.65,361.58 L275.73,360.95 L276.81,360.32 L277.89,359.70 L278.97,359.07 L280.05,358.45 L281.13,357.83 L282.21,357.21 L283.30,356.59 L284.38,355.96 L285.46,355.34 L286.54,354.71 L287.40,354.20" fill="none" stroke="#ff00ff" stroke-width="1.9"/>
<path d="M294.56,350.10 L295.64,349.50 L296.72,348.91 L297.80,348.32 L298.89,347.74 L299.97,347.16 L301.05,346.58 L302.13,346.00 L303.21,345.43 L304.29,344.86 L305.37,344.29 L306.45,343.73 L307.54,343.17 L308.62,342.62 L309.70,342.06 L310.78,341.52 L311.86,340.97 L312.94,340.43 L314.02,339.89 L315.10,339.36 L315.97,338.93" fill="none" stroke="#ff00ff" stroke-width="1.9"/>
<path d="M323.13,335.57 L324.21,335.09 L325.29,334.61 L326.37,334.13 L327.45,333.66 L328.53,333.19 L329.61,332.72 L330.69,332.26 L331.78,331.80 L332.86,331.34 L333.94,330.89 L335.02,330.43 L336.10,329.98 L337.18,329.53 L338.26,329.08 L339.34,328.64 L340.43,328.19 L341.51,327.75 L342.59,327.31 L343.67,326.86 L344.53,326.51" fill="none" stroke="#ff00ff" stroke-width="1.9"/>
<path d="M351.69,323.59 L352.77,323.22 L353.85,322.88 L354.94,322.56 L356.02,322.25 L357.10,321.95 L358.18,321.66 L359.26,321.38 L360.34,321.11 L361.42,320.84 L362.50,320.59 L363.59,320.33 L364.67,320.08 L365.75,319.83 L366.83,319.58 L367.91,319.34 L368.99,319.09 L370.07,318.83 L371.15,318.57 L372.23,318.31 L373.10,318.09" fill="none" stroke="#ff00ff" stroke-width="1.9"/>
<path d="M380.26,316.14 L381.34,315.94 L382.42,315.75 L383.50,315.58 L384.58,315.41 L385.66,315.26 L386.74,315.11 L387.83,314.97 L388.91,314.84 L389.99,314.71 L391.07,314.58 L392.15,314.46 L393.23,314.35 L394.31,314.23 L395.39,314.12 L396.48,314.00 L397.56,313.88 L398.64,313.77 L399.72,313.65 L400.80,313.52 L401.66,313.42" fill="none" stroke="#ff00ff" stroke-width="1.9"/>
<path d="M408.82,312.54 L409.90,312.44 L410.98,312.34 L412.07,312.24 L413.15,312.15 L414.23,312.06 L415.31,311.98 L416.39,311.90 L417.47,311.82 L418.55,311.74 L419.63,311.66 L420.72,311.58 L421.80,311.50 L422.88,311.42 L423.96,311.35 L425.04,311.27 L426.12,311.18 L427.20,311.10 L428.28,311.01 L429.37,310.92 L430.23,310.85" fill="none" stroke="#ff00ff" stroke-width="1.9"/>
<path d="M437.39,310.17 L438.47,310.10 L439.55,310.02 L440.63,309.96 L441.71,309.89 L442.79,309.82 L443.87,309.76 L444.96,309.70 L446.04,309.64 L447.12,309.58 L448.20,309.53 L449.28,309.48 L450.36,309.42 L451.44,309.37 L452.52,309.32 L453.61,309.28 L454.69,309.23 L455.77,309.19 L456.85,309.14 L457.93,309.10 L458.80,309.07" fill="none" stroke="#ff00ff" stroke-width="1.9"/>
<path d="M465.95,308.83 L467.03,308.79 L468.12,308.76 L469.20,308.73 L470.28,308.69 L471.36,308.66 L472.44,308.63 L473.52,308.60 L474.60,308.57 L475.68,308.54 L476.77,308.51 L477.85,308.49 L478.93,308.46 L480.01,308.44 L481.09,308.41 L482.17,308.39 L483.25,308.36 L484.33,308.34 L485.41,308.32 L486.50,308.30 L487.36,308.28" fill="none" stroke="#ff00ff" stroke-width="1.9"/>
<path d="M494.52,308.17 L495.60,308.15 L496.68,308.14 L497.76,308.12 L498.84,308.10 L499.92,308.08 L501.01,308.07 L502.09,308.05 L503.17,308.04 L504.25,308.02 L505.33,308.00 L506.41,307.99 L507.49,307.97 L508.57,307.95 L509.66,307.94 L510.74,307.92 L511.82,307.91 L512.90,307.89 L513.98,307.88 L515.06,307.86 L515.93,307.85" fill="none" stroke="#ff00ff" stroke-width="1.9"/>
<path d="M523.08,307.76 L524.16,307.75 L525.25,307.74 L526.33,307.72 L527.41,307.71 L528.49,307.70 L529.57,307.69 L530.65,307.68 L531.73,307.67 L532.81,307.66 L533.90,307.65 L534.98,307.64 L536.06,307.63 L537.14,307.62 L538.22,307.61 L539.30,307.60 L540.38,307.59 L541.46,307.59 L542.55,307.58 L543.63,307.57 L544.49,307.57" fill="none" stroke="#ff00ff" stroke-width="1.9"/>
<path d="M551.65,307.54 L552.73,307.53 L553.81,307.53 L554.89,307.53 L555.97,307.53 L557.05,307.53 L558.14,307.53 L559.22,307.53 L560.30,307.53 L561.38,307.53 L562.46,307.53 L563.54,307.53 L564.62,307.53 L565.70,307.53 L566.79,307.53 L567.87,307.53 L568.95,307.53 L570.03,307.53 L571.11,307.53 L572.19,307.53 L573.06,307.53" fill="none" stroke="#ff00ff" stroke-width="1.9"/>
<path d="M569.53,307.53 L570.61,307.53 L571.69,307.53 L572.78,307.53 L573.86,307.53 L574.94,307.53 L576.02,307.53 L577.10,307.53 L578.18,307.53 L579.26,307.53 L580.34,307.53 L581.43,307.53 L582.51,307.53 L583.59,307.53 L584.67,307.53 L585.75,307.53 L586.83,307.53 L587.91,307.53 L588.99,307.53 L590.07,307.53 L590.94,307.53" fill="none" stroke="#ff00ff" stroke-width="1.9"/>
<path d="M598.10,307.53 L599.18,307.53 L600.26,307.53 L601.34,307.53 L602.42,307.53 L603.50,307.53 L604.58,307.53 L605.67,307.53 L606.75,307.53 L607.83,307.53 L608.91,307.53 L609.99,307.53 L611.07,307.53 L612.15,307.53 L613.23,307.53 L614.32,307.53 L615.40,307.53 L616.48,307.53 L617.56,307.53 L618.64,307.53 L619.51,307.53" fill="none" stroke="#ff00ff" stroke-width="1.9"/>
<path d="M626.66,307.53 L627.74,307.53 L628.83,307.53 L629.91,307.53 L630.99,307.53 L632.07,307.53 L633.15,307.53 L634.23,307.53 L635.31,307.53 L636.39,307.53 L637.47,307.53 L638.56,307.53 L639.64,307.53 L640.72,307.53 L641.80,307.53 L642.88,307.53 L643.96,307.53 L645.04,307.53 L646.12,307.53 L647.21,307.53 L648.07,307.53" fill="none" stroke="#ff00ff" stroke-width="1.9"/>
<path d="M655.23,307.53 L656.31,307.53 L657.39,307.53 L658.47,307.53 L659.55,307.53 L660.63,307.53 L661.72,307.53 L662.80,307.53 L663.88,307.53 L664.96,307.53 L666.04,307.53 L667.12,307.53 L668.20,307.53 L669.28,307.53 L670.36,307.53 L671.45,307.53 L672.53,307.53 L673.61,307.53 L674.69,307.53 L675.77,307.53 L676.64,307.53" fill="none" stroke="#ff00ff" stroke-width="1.9"/>
<path d="M683.79,307.53 L684.87,307.53 L685.96,307.53 L687.04,307.53 L688.12,307.53 L689.20,307.53 L690.28,307.53 L691.36,307.53 L692.44,307.53 L693.52,307.53 L694.61,307.53 L695.69,307.53 L696.77,307.53 L697.85,307.53 L698.93,307.53 L700.01,307.53 L701.09,307.53 L702.17,307.53 L703.25,307.53 L704.34,307.53 L705.20,307.53" fill="none" stroke="#ff00ff" stroke-width="1.9"/>
<path d="M712.36,307.53 L713.44,307.53 L714.52,307.53 L715.60,307.53 L716.68,307.53 L717.76,307.53 L718.85,307.53 L719.93,307.53 L721.01,307.53 L722.09,307.53 L723.17,307.53 L724.25,307.53 L725.33,307.53 L726.41,307.53 L727.50,307.53 L728.58,307.53 L729.66,307.53 L730.74,307.53 L731.82,307.53 L732.90,307.53 L733.77,307.53" fill="none" stroke="#ff00ff" stroke-width="1.9"/>
<line x1="569.9" y1="95.0" x2="569.9" y2="418.2" stroke="#000" stroke-width="1.7" stroke-dasharray="11.3 3.6"/>
<line x1="567.8" y1="50.2" x2="567.8" y2="76" stroke="#000" stroke-width="1.9"/>
<path d="M559.0,74.4 L576.5999999999999,74.4 L567.8,91.5 Z" fill="#000"/>
<line x1="743.1" y1="12.0" x2="743.1" y2="418.2" stroke="#3a3a3a" stroke-width="1.3"/>
<line x1="174.0" y1="12.0" x2="743.7" y2="12.0" stroke="#000" stroke-width="1.7"/>
<line x1="180.3" y1="12.0" x2="180.3" y2="424.5" stroke="#000" stroke-width="1.4"/>
<line x1="174.0" y1="418.2" x2="743.7" y2="418.2" stroke="#000" stroke-width="1.9"/>
<line x1="174.0" y1="360.18" x2="180.3" y2="360.18" stroke="#000" stroke-width="1.5"/>
<line x1="174.0" y1="302.16" x2="180.3" y2="302.16" stroke="#000" stroke-width="1.5"/>
<line x1="174.0" y1="244.14" x2="180.3" y2="244.14" stroke="#000" stroke-width="1.5"/>
<line x1="174.0" y1="186.12" x2="180.3" y2="186.12" stroke="#000" stroke-width="1.5"/>
<line x1="174.0" y1="128.10" x2="180.3" y2="128.10" stroke="#000" stroke-width="1.5"/>
<line x1="174.0" y1="70.08" x2="180.3" y2="70.08" stroke="#000" stroke-width="1.5"/>
<line x1="288.42" y1="418.2" x2="288.42" y2="424.5" stroke="#000" stroke-width="1.5"/>
<line x1="396.54" y1="418.2" x2="396.54" y2="424.5" stroke="#000" stroke-width="1.5"/>
<line x1="504.66" y1="418.2" x2="504.66" y2="424.5" stroke="#000" stroke-width="1.5"/>
<line x1="612.78" y1="418.2" x2="612.78" y2="424.5" stroke="#000" stroke-width="1.5"/>
<line x1="720.90" y1="418.2" x2="720.90" y2="424.5" stroke="#000" stroke-width="1.5"/>
<text transform="translate(166.6,423.15) scale(0.97,1)" font-size="15.1" text-anchor="end">0</text>
<text transform="translate(166.6,365.13) scale(0.97,1)" font-size="15.1" text-anchor="end">20</text>
<text transform="translate(166.6,307.11) scale(0.97,1)" font-size="15.1" text-anchor="end">40</text>
<text transform="translate(166.6,249.09) scale(0.97,1)" font-size="15.1" text-anchor="end">60</text>
<text transform="translate(166.6,191.07) scale(0.97,1)" font-size="15.1" text-anchor="end">80</text>
<text transform="translate(166.6,133.05) scale(0.97,1)" font-size="15.1" text-anchor="end">100</text>
<text transform="translate(166.6,75.03) scale(0.97,1)" font-size="15.1" text-anchor="end">120</text>
<text transform="translate(166.6,17.01) scale(0.97,1)" font-size="15.1" text-anchor="end">140</text>
<text transform="translate(180.30,447.2) scale(0.97,1)" font-size="15.1" text-anchor="middle">0</text>
<text transform="translate(288.42,447.2) scale(0.97,1)" font-size="15.1" text-anchor="middle">50</text>
<text transform="translate(396.54,447.2) scale(0.97,1)" font-size="15.1" text-anchor="middle">100</text>
<text transform="translate(504.66,447.2) scale(0.97,1)" font-size="15.1" text-anchor="middle">150</text>
<text transform="translate(612.78,447.2) scale(0.97,1)" font-size="15.1" text-anchor="middle">200</text>
<text transform="translate(720.90,447.2) scale(0.97,1)" font-size="15.1" text-anchor="middle">250</text>
<rect x="186.7" y="18.7" width="88.10000000000002" height="143.10000000000002" fill="#fff" stroke="#000" stroke-width="1.1"/>
<line x1="198" y1="39.4" x2="234.5" y2="39.4" stroke="#000" stroke-width="2.0"/>
<text x="243.2" y="45.3" font-size="14.2">f1</text>
<line x1="198" y1="59.8" x2="234.5" y2="59.8" stroke="#ff0000" stroke-width="1.5"/>
<text x="243.2" y="65.7" font-size="14.2">f3</text>
<line x1="198" y1="80.05" x2="234.5" y2="80.05" stroke="#0000ff" stroke-width="1.7"/>
<text x="243.2" y="85.95" font-size="14.2">f5</text>
<line x1="198" y1="100.0" x2="234.5" y2="100.0" stroke="#008000" stroke-width="1.8"/>
<text x="243.2" y="105.9" font-size="14.2">f7</text>
<line x1="198" y1="120.7" x2="234.5" y2="120.7" stroke="#800080" stroke-width="1.1"/>
<text x="243.2" y="126.60000000000001" font-size="14.2">f9</text>
<line x1="198" y1="140.8" x2="234.5" y2="140.8" stroke="#008080" stroke-width="1.4"/>
<text x="243.2" y="146.70000000000002" font-size="14.2">f11</text>
<path d="M165.20,937.70 L166.31,934.94 L167.42,932.20 L168.53,929.48 L169.64,926.78 L170.75,924.09 L171.87,921.42 L172.98,918.76 L174.09,916.12 L175.20,913.50 L176.31,910.89 L177.42,908.30 L178.53,905.73 L179.64,903.17 L180.75,900.63 L181.86,898.10 L182.98,895.59 L184.09,893.10 L185.20,890.62 L186.31,888.15 L187.42,885.71 L188.53,883.27 L189.64,880.86 L190.75,878.45 L191.86,876.07 L192.97,873.69 L194.09,871.34 L195.20,868.99 L196.31,866.67 L197.42,864.35 L198.53,862.05 L199.64,859.77 L200.75,857.50 L201.86,855.25 L202.97,853.01 L204.08,850.78 L205.20,848.57 L206.31,846.37 L207.42,844.18 L208.53,842.01 L209.64,839.85 L210.75,837.71 L211.86,835.58 L212.97,833.46 L214.08,831.36 L215.19,829.27 L216.31,827.19 L217.42,825.13 L218.53,823.08 L219.64,821.04 L220.75,819.02 L221.86,817.01 L222.97,815.01 L224.08,813.02 L225.19,811.05 L226.30,809.09 L227.42,807.14 L228.53,805.20 L229.64,803.28 L230.75,801.36 L231.86,799.46 L232.97,797.57 L234.08,795.70 L235.19,793.83 L236.30,791.98 L237.41,790.14 L238.53,788.31 L239.64,786.49 L240.75,784.68 L241.86,782.89 L242.97,781.10 L244.08,779.33 L245.19,777.56 L246.30,775.81 L247.41,774.07 L248.52,772.34 L249.64,770.62 L250.75,768.91 L251.86,767.21 L252.97,765.53 L254.08,763.85 L255.19,762.18 L256.30,760.52 L257.41,758.88 L258.52,757.24 L259.63,755.61 L260.75,753.99 L261.86,752.39 L262.97,750.79 L264.08,749.20 L265.19,747.62 L266.30,746.05 L267.41,744.49 L268.52,742.94 L269.63,741.39 L270.75,739.86 L271.86,738.34 L272.97,736.82 L274.08,735.31 L275.19,733.82 L276.30,732.33 L277.41,730.85 L278.52,729.37 L279.63,727.91 L280.74,726.45 L281.86,725.01 L282.97,723.57 L284.08,722.14 L285.19,720.72 L286.30,719.30 L287.41,717.90 L288.52,716.50 L289.63,715.11 L290.74,713.73 L291.85,712.36 L292.96,711.00 L294.08,709.65 L295.19,708.30 L296.30,706.96 L297.41,705.63 L298.52,704.31 L299.63,703.00 L300.74,701.69 L301.85,700.39 L302.96,699.10 L304.07,697.82 L305.19,696.55 L306.30,695.29 L307.41,694.03 L308.52,692.78 L309.63,691.54 L310.74,690.31 L311.85,689.09 L312.96,687.87 L314.07,686.66 L315.18,685.46 L316.30,684.27 L317.41,683.08 L318.52,681.91 L319.63,680.74 L320.74,679.58 L321.85,678.43 L322.96,677.28 L324.07,676.15 L325.18,675.02 L326.29,673.90 L327.41,672.78 L328.52,671.68 L329.63,670.58 L330.74,669.49 L331.85,668.41 L332.96,667.33 L334.07,666.26 L335.18,665.21 L336.29,664.15 L337.40,663.11 L338.52,662.07 L339.63,661.05 L340.74,660.02 L341.85,659.01 L342.96,658.01 L344.07,657.01 L345.18,656.02 L346.29,655.03 L347.40,654.06 L348.51,653.09 L349.63,652.13 L350.74,651.18 L351.85,650.23 L352.96,649.29 L354.07,648.36 L355.18,647.44 L356.29,646.52 L357.40,645.61 L358.51,644.71 L359.62,643.82 L360.74,642.93 L361.85,642.05 L362.96,641.18 L364.07,640.31 L365.18,639.46 L366.29,638.61 L367.40,637.76 L368.51,636.93 L369.62,636.10 L370.74,635.28 L371.85,634.46 L372.96,633.65 L374.07,632.85 L375.18,632.06 L376.29,631.28 L377.40,630.50 L378.51,629.72 L379.62,628.96 L380.73,628.20 L381.85,627.45 L382.96,626.71 L384.07,625.97 L385.18,625.24 L386.29,624.52 L387.40,623.80 L388.51,623.09 L389.62,622.39 L390.73,621.70 L391.84,621.01 L392.95,620.33 L394.07,619.65 L395.18,618.98 L396.29,618.32 L397.40,617.67 L398.51,617.02 L399.62,616.38 L400.73,615.74 L401.84,615.12 L402.95,614.50 L404.06,613.88 L405.18,613.28 L406.29,612.67 L407.40,612.08 L408.51,611.49 L409.62,610.91 L410.73,610.34 L411.84,609.77 L412.95,609.21 L414.06,608.65 L415.17,608.11 L416.29,607.56 L417.40,607.03 L418.51,606.50 L419.62,605.98 L420.73,605.46 L421.84,604.95 L422.95,604.45 L424.06,603.95 L425.17,603.46 L426.28,602.98 L427.40,602.50 L428.51,602.02 L429.62,601.56 L430.73,601.10 L431.84,600.64 L432.95,600.19 L434.06,599.75 L435.17,599.31 L436.28,598.88 L437.39,598.45 L438.51,598.03 L439.62,597.62 L440.73,597.21 L441.84,596.80 L442.95,596.41 L444.06,596.01 L445.17,595.63 L446.28,595.24 L447.39,594.87 L448.50,594.50 L449.62,594.13 L450.73,593.77 L451.84,593.41 L452.95,593.06 L454.06,592.72 L455.17,592.38 L456.28,592.04 L457.39,591.71 L458.50,591.39 L459.62,591.07 L460.73,590.75 L461.84,590.44 L462.95,590.13 L464.06,589.83 L465.17,589.54 L466.28,589.24 L467.39,588.96 L468.50,588.67 L469.61,588.39 L470.72,588.12 L471.84,587.85 L472.95,587.59 L474.06,587.32 L475.17,587.07 L476.28,586.82 L477.39,586.57 L478.50,586.32 L479.61,586.08 L480.72,585.85 L481.83,585.62 L482.95,585.39 L484.06,585.17 L485.17,584.95 L486.28,584.73 L487.39,584.52 L488.50,584.31 L489.61,584.11 L490.72,583.91 L491.83,583.71 L492.94,583.52 L494.06,583.33 L495.17,583.14 L496.28,582.96 L497.39,582.78 L498.50,582.60 L499.61,582.43 L500.72,582.26 L501.83,582.10 L502.94,581.94 L504.06,581.78 L505.17,581.62 L506.28,581.47 L507.39,581.32 L508.50,581.17 L509.61,581.03 L510.72,580.89 L511.83,580.75 L512.94,580.62 L514.05,580.49 L515.16,580.36 L516.28,580.23 L517.39,580.11 L518.50,579.99 L519.61,579.87 L520.72,579.75 L521.83,579.64 L522.94,579.53 L524.05,579.42 L525.16,579.32 L526.27,579.22 L527.39,579.11 L528.50,579.02 L529.61,578.92 L530.72,578.83 L531.83,578.74 L532.94,578.65 L534.05,578.56 L535.16,578.47 L536.27,578.39 L537.38,578.31 L538.50,578.23 L539.61,578.15 L540.72,578.08 L541.83,578.01 L542.94,577.93 L544.05,577.86 L545.16,577.80 L546.27,577.73 L547.38,577.67 L548.50,577.60 L549.61,577.54 L550.72,577.48 L551.83,577.42 L552.94,577.36 L554.05,577.31 L555.16,577.25 L556.27,577.20 L557.38,577.15 L558.49,577.10 L559.61,577.05 L560.72,577.00 L561.83,576.95 L562.94,576.91 L564.05,576.86 L565.16,576.82 L566.27,576.78 L567.38,576.74 L568.49,576.70 L569.60,576.66 L570.71,576.62 L571.83,576.59 L572.94,576.55 L574.05,576.52 L575.16,576.49 L576.27,576.46 L577.38,576.43 L578.49,576.40 L579.60,576.37 L580.71,576.34 L581.83,576.32 L582.94,576.29 L584.05,576.27 L585.16,576.24 L586.27,576.22 L587.38,576.20 L588.49,576.18 L589.60,576.16 L590.71,576.14 L591.82,576.12 L592.93,576.11 L594.05,576.09 L595.16,576.07 L596.27,576.06 L597.38,576.05 L598.49,576.03 L599.60,576.02 L600.71,576.01 L601.82,576.00 L602.93,575.99 L604.04,575.98 L605.16,575.97 L606.27,575.97 L607.38,575.96 L608.49,575.95 L609.60,575.95 L610.71,575.94 L611.82,575.94 L612.93,575.94 L614.04,575.93 L615.15,575.93 L616.27,575.93 L617.38,575.93 L618.49,575.93 L619.60,575.93 L620.71,575.93 L621.82,575.93 L622.93,575.93 L624.04,575.93 L625.15,575.94 L626.26,575.94 L627.38,575.94 L628.49,575.95 L629.60,575.95 L630.71,575.96 L631.82,575.96 L632.93,575.97 L634.04,575.97 L635.15,575.98 L636.26,575.99 L637.38,575.99 L638.49,576.00 L639.60,576.01 L640.71,576.02 L641.82,576.02 L642.93,576.03 L644.04,576.04 L645.15,576.05 L646.26,576.06 L647.37,576.07 L648.48,576.08 L649.60,576.09 L650.71,576.10 L651.82,576.11 L652.93,576.12 L654.04,576.13 L655.15,576.14 L656.26,576.15 L657.37,576.16 L658.48,576.17 L659.60,576.18 L660.71,576.19 L661.82,576.20 L662.93,576.21 L664.04,576.22 L665.15,576.23 L666.26,576.24 L667.37,576.25 L668.48,576.26 L669.59,576.27 L670.70,576.28 L671.82,576.29 L672.93,576.30 L674.04,576.31 L675.15,576.32 L676.26,576.33 L677.37,576.34 L678.48,576.35 L679.59,576.35 L680.70,576.36 L681.82,576.37 L682.93,576.38 L684.04,576.39 L685.15,576.39 L686.26,576.40 L687.37,576.41 L688.48,576.42 L689.59,576.42 L690.70,576.43 L691.81,576.43 L692.92,576.44 L694.04,576.44 L695.15,576.45 L696.26,576.45 L697.37,576.45 L698.48,576.46 L699.59,576.46 L700.70,576.46 L701.81,576.46 L702.92,576.46 L704.04,576.47 L705.15,576.47 L706.26,576.46 L707.37,576.46 L708.48,576.46 L709.59,576.46 L710.70,576.46 L711.81,576.45 L712.92,576.45 L714.03,576.44 L715.14,576.44 L716.26,576.43 L717.37,576.43 L718.48,576.42 L719.59,576.41 L720.70,576.40 L721.81,576.39 L722.92,576.38 L724.03,576.37 L725.14,576.36 L726.25,576.35 L727.37,576.33 L728.48,576.32 L729.59,576.30 L730.70,576.29 L731.81,576.27 L732.92,576.25 L734.03,576.23 L735.14,576.21 L736.25,576.19 L737.37,576.17 L738.48,576.15 L738.92,576.14" fill="none" stroke="#000000" stroke-width="1.5" stroke-linejoin="round"/>
<path d="M165.20,937.70 L166.31,935.66 L167.42,933.63 L168.53,931.61 L169.64,929.59 L170.75,927.58 L171.87,925.57 L172.98,923.57 L174.09,921.57 L175.20,919.58 L176.31,917.60 L177.42,915.62 L178.53,913.65 L179.64,911.68 L180.75,909.72 L181.86,907.77 L182.98,905.82 L184.09,903.88 L185.20,901.94 L186.31,900.01 L187.42,898.08 L188.53,896.16 L189.64,894.25 L190.75,892.34 L191.86,890.44 L192.97,888.54 L194.09,886.65 L195.20,884.76 L196.31,882.88 L197.42,881.01 L198.53,879.14 L199.64,877.28 L200.75,875.42 L201.86,873.57 L202.97,871.73 L204.08,869.89 L205.20,868.06 L206.31,866.23 L207.42,864.41 L208.53,862.59 L209.64,860.78 L210.75,858.98 L211.86,857.18 L212.97,855.39 L214.08,853.60 L215.19,851.82 L216.31,850.04 L217.42,848.27 L218.53,846.51 L219.64,844.75 L220.75,843.00 L221.86,841.25 L222.97,839.51 L224.08,837.78 L225.19,836.05 L226.30,834.32 L227.42,832.61 L228.53,830.89 L229.64,829.19 L230.75,827.49 L231.86,825.79 L232.97,824.10 L234.08,822.42 L235.19,820.74 L236.30,819.07 L237.41,817.40 L238.53,815.74 L239.64,814.09 L240.75,812.44 L241.86,810.80 L242.97,809.16 L244.08,807.53 L245.19,805.90 L246.30,804.28 L247.41,802.67 L248.52,801.06 L249.64,799.46 L250.75,797.86 L251.86,796.27 L252.97,794.68 L254.08,793.10 L255.19,791.53 L256.30,789.96 L257.41,788.40 L258.52,786.84 L259.63,785.29 L260.75,783.74 L261.86,782.20 L262.97,780.67 L264.08,779.14 L265.19,777.62 L266.30,776.10 L267.41,774.59 L268.52,773.08 L269.63,771.58 L270.75,770.09 L271.86,768.60 L272.97,767.12 L274.08,765.64 L275.19,764.17 L276.30,762.71 L277.41,761.25 L278.52,759.79 L279.63,758.34 L280.74,756.90 L281.86,755.46 L282.97,754.03 L284.08,752.61 L285.19,751.19 L286.30,749.78 L287.41,748.37 L288.52,746.97 L289.63,745.57 L290.74,744.18 L291.85,742.80 L292.96,741.42 L294.08,740.05 L295.19,738.68 L296.30,737.32 L297.41,735.97 L298.52,734.62 L299.63,733.28 L300.74,731.94 L301.85,730.61 L302.96,729.29 L304.07,727.97 L305.19,726.66 L306.30,725.36 L307.41,724.06 L308.52,722.76 L309.63,721.48 L310.74,720.20 L311.85,718.92 L312.96,717.66 L314.07,716.39 L315.18,715.14 L316.30,713.89 L317.41,712.65 L318.52,711.41 L319.63,710.18 L320.74,708.96 L321.85,707.74 L322.96,706.53 L324.07,705.33 L325.18,704.13 L326.29,702.94 L327.41,701.75 L328.52,700.58 L329.63,699.40 L330.74,698.24 L331.85,697.08 L332.96,695.93 L334.07,694.78 L335.18,693.64 L336.29,692.51 L337.40,691.39 L338.52,690.27 L339.63,689.16 L340.74,688.05 L341.85,686.95 L342.96,685.86 L344.07,684.77 L345.18,683.69 L346.29,682.62 L347.40,681.56 L348.51,680.50 L349.63,679.45 L350.74,678.40 L351.85,677.37 L352.96,676.34 L354.07,675.31 L355.18,674.29 L356.29,673.28 L357.40,672.28 L358.51,671.29 L359.62,670.30 L360.74,669.31 L361.85,668.34 L362.96,667.37 L364.07,666.41 L365.18,665.46 L366.29,664.51 L367.40,663.57 L368.51,662.64 L369.62,661.71 L370.74,660.79 L371.85,659.88 L372.96,658.98 L374.07,658.08 L375.18,657.19 L376.29,656.31 L377.40,655.43 L378.51,654.57 L379.62,653.71 L380.73,652.85 L381.85,652.01 L382.96,651.17 L384.07,650.34 L385.18,649.51 L386.29,648.70 L387.40,647.89 L388.51,647.09 L389.62,646.29 L390.73,645.51 L391.84,644.73 L392.95,643.96 L394.07,643.19 L395.18,642.43 L396.29,641.69 L397.40,640.94 L398.51,640.21 L399.62,639.48 L400.73,638.76 L401.84,638.05 L402.95,637.35 L404.06,636.65 L405.18,635.97 L406.29,635.29 L407.40,634.61 L408.51,633.95 L409.62,633.29 L410.73,632.64 L411.84,632.00 L412.95,631.37 L414.06,630.74 L415.17,630.12 L416.29,629.51 L417.40,628.91 L418.51,628.31 L419.62,627.73 L420.73,627.15 L421.84,626.58 L422.95,626.01 L424.06,625.45 L425.17,624.90 L426.28,624.36 L427.40,623.83 L428.51,623.30 L429.62,622.78 L430.73,622.27 L431.84,621.76 L432.95,621.26 L434.06,620.77 L435.17,620.28 L436.28,619.80 L437.39,619.33 L438.51,618.87 L439.62,618.41 L440.73,617.96 L441.84,617.51 L442.95,617.07 L444.06,616.64 L445.17,616.22 L446.28,615.80 L447.39,615.39 L448.50,614.98 L449.62,614.58 L450.73,614.19 L451.84,613.80 L452.95,613.42 L454.06,613.04 L455.17,612.67 L456.28,612.31 L457.39,611.95 L458.50,611.60 L459.62,611.25 L460.73,610.91 L461.84,610.57 L462.95,610.24 L464.06,609.92 L465.17,609.60 L466.28,609.29 L467.39,608.98 L468.50,608.68 L469.61,608.38 L470.72,608.09 L471.84,607.80 L472.95,607.52 L474.06,607.25 L475.17,606.98 L476.28,606.71 L477.39,606.45 L478.50,606.19 L479.61,605.94 L480.72,605.69 L481.83,605.45 L482.95,605.21 L484.06,604.98 L485.17,604.75 L486.28,604.53 L487.39,604.31 L488.50,604.09 L489.61,603.88 L490.72,603.67 L491.83,603.47 L492.94,603.27 L494.06,603.08 L495.17,602.89 L496.28,602.70 L497.39,602.52 L498.50,602.34 L499.61,602.17 L500.72,602.00 L501.83,601.83 L502.94,601.67 L504.06,601.51 L505.17,601.35 L506.28,601.20 L507.39,601.05 L508.50,600.91 L509.61,600.77 L510.72,600.63 L511.83,600.49 L512.94,600.36 L514.05,600.23 L515.16,600.10 L516.28,599.98 L517.39,599.86 L518.50,599.75 L519.61,599.63 L520.72,599.52 L521.83,599.41 L522.94,599.31 L524.05,599.20 L525.16,599.10 L526.27,599.01 L527.39,598.91 L528.50,598.82 L529.61,598.73 L530.72,598.64 L531.83,598.55 L532.94,598.47 L534.05,598.39 L535.16,598.31 L536.27,598.23 L537.38,598.16 L538.50,598.09 L539.61,598.02 L540.72,597.95 L541.83,597.88 L542.94,597.81 L544.05,597.75 L545.16,597.69 L546.27,597.63 L547.38,597.57 L548.50,597.51 L549.61,597.46 L550.72,597.40 L551.83,597.35 L552.94,597.30 L554.05,597.25 L555.16,597.20 L556.27,597.15 L557.38,597.10 L558.49,597.06 L559.61,597.01 L560.72,596.97 L561.83,596.93 L562.94,596.89 L564.05,596.85 L565.16,596.81 L566.27,596.77 L567.38,596.74 L568.49,596.70 L569.60,596.67 L570.71,596.63 L571.83,596.60 L572.94,596.57 L574.05,596.54 L575.16,596.51 L576.27,596.48 L577.38,596.45 L578.49,596.43 L579.60,596.40 L580.71,596.38 L581.83,596.35 L582.94,596.33 L584.05,596.31 L585.16,596.29 L586.27,596.27 L587.38,596.25 L588.49,596.23 L589.60,596.21 L590.71,596.20 L591.82,596.18 L592.93,596.16 L594.05,596.15 L595.16,596.14 L596.27,596.12 L597.38,596.11 L598.49,596.10 L599.60,596.09 L600.71,596.08 L601.82,596.07 L602.93,596.06 L604.04,596.05 L605.16,596.04 L606.27,596.04 L607.38,596.03 L608.49,596.03 L609.60,596.02 L610.71,596.02 L611.82,596.01 L612.93,596.01 L614.04,596.01 L615.15,596.00 L616.27,596.00 L617.38,596.00 L618.49,596.00 L619.60,596.00 L620.71,596.00 L621.82,596.00 L622.93,596.00 L624.04,596.00 L625.15,596.00 L626.26,596.01 L627.38,596.01 L628.49,596.01 L629.60,596.02 L630.71,596.02 L631.82,596.02 L632.93,596.03 L634.04,596.03 L635.15,596.04 L636.26,596.04 L637.38,596.05 L638.49,596.05 L639.60,596.06 L640.71,596.07 L641.82,596.07 L642.93,596.08 L644.04,596.09 L645.15,596.09 L646.26,596.10 L647.37,596.11 L648.48,596.11 L649.60,596.12 L650.71,596.13 L651.82,596.14 L652.93,596.15 L654.04,596.15 L655.15,596.16 L656.26,596.17 L657.37,596.18 L658.48,596.19 L659.60,596.19 L660.71,596.20 L661.82,596.21 L662.93,596.22 L664.04,596.23 L665.15,596.23 L666.26,596.24 L667.37,596.25 L668.48,596.26 L669.59,596.27 L670.70,596.27 L671.82,596.28 L672.93,596.29 L674.04,596.29 L675.15,596.30 L676.26,596.31 L677.37,596.31 L678.48,596.32 L679.59,596.33 L680.70,596.33 L681.82,596.34 L682.93,596.34 L684.04,596.35 L685.15,596.35 L686.26,596.36 L687.37,596.36 L688.48,596.37 L689.59,596.37 L690.70,596.37 L691.81,596.37 L692.92,596.38 L694.04,596.38 L695.15,596.38 L696.26,596.38 L697.37,596.38 L698.48,596.38 L699.59,596.38 L700.70,596.38 L701.81,596.38 L702.92,596.38 L704.04,596.38 L705.15,596.37 L706.26,596.37 L707.37,596.37 L708.48,596.36 L709.59,596.36 L710.70,596.35 L711.81,596.35 L712.92,596.34 L714.03,596.33 L715.14,596.32 L716.26,596.32 L717.37,596.31 L718.48,596.30 L719.59,596.29 L720.70,596.28 L721.81,596.26 L722.92,596.25 L724.03,596.24 L725.14,596.22 L726.25,596.21 L727.37,596.19 L728.48,596.18 L729.59,596.16 L730.70,596.14 L731.81,596.12 L732.92,596.10 L734.03,596.08 L735.14,596.06 L736.25,596.04 L737.37,596.01 L738.48,595.99 L738.92,595.98" fill="none" stroke="#ff0000" stroke-width="1.75" stroke-linejoin="round"/>
<path d="M165.20,937.70 L166.31,935.97 L167.42,934.24 L168.53,932.51 L169.64,930.79 L170.75,929.08 L171.87,927.37 L172.98,925.66 L174.09,923.96 L175.20,922.26 L176.31,920.57 L177.42,918.88 L178.53,917.19 L179.64,915.51 L180.75,913.83 L181.86,912.16 L182.98,910.49 L184.09,908.83 L185.20,907.17 L186.31,905.52 L187.42,903.86 L188.53,902.22 L189.64,900.57 L190.75,898.94 L191.86,897.30 L192.97,895.67 L194.09,894.04 L195.20,892.42 L196.31,890.80 L197.42,889.19 L198.53,887.57 L199.64,885.97 L200.75,884.36 L201.86,882.76 L202.97,881.17 L204.08,879.57 L205.20,877.99 L206.31,876.40 L207.42,874.82 L208.53,873.24 L209.64,871.67 L210.75,870.10 L211.86,868.53 L212.97,866.97 L214.08,865.41 L215.19,863.86 L216.31,862.30 L217.42,860.75 L218.53,859.21 L219.64,857.67 L220.75,856.13 L221.86,854.59 L222.97,853.06 L224.08,851.53 L225.19,850.01 L226.30,848.49 L227.42,846.97 L228.53,845.45 L229.64,843.94 L230.75,842.43 L231.86,840.93 L232.97,839.43 L234.08,837.93 L235.19,836.43 L236.30,834.94 L237.41,833.45 L238.53,831.96 L239.64,830.48 L240.75,829.00 L241.86,827.52 L242.97,826.05 L244.08,824.58 L245.19,823.11 L246.30,821.64 L247.41,820.18 L248.52,818.72 L249.64,817.26 L250.75,815.81 L251.86,814.35 L252.97,812.91 L254.08,811.46 L255.19,810.02 L256.30,808.57 L257.41,807.14 L258.52,805.70 L259.63,804.27 L260.75,802.84 L261.86,801.41 L262.97,799.99 L264.08,798.56 L265.19,797.14 L266.30,795.72 L267.41,794.31 L268.52,792.90 L269.63,791.49 L270.75,790.08 L271.86,788.67 L272.97,787.27 L274.08,785.87 L275.19,784.47 L276.30,783.07 L277.41,781.68 L278.52,780.29 L279.63,778.90 L280.74,777.51 L281.86,776.13 L282.97,774.75 L284.08,773.37 L285.19,771.99 L286.30,770.62 L287.41,769.24 L288.52,767.88 L289.63,766.51 L290.74,765.15 L291.85,763.79 L292.96,762.43 L294.08,761.08 L295.19,759.73 L296.30,758.38 L297.41,757.04 L298.52,755.70 L299.63,754.36 L300.74,753.03 L301.85,751.70 L302.96,750.37 L304.07,749.05 L305.19,747.73 L306.30,746.41 L307.41,745.10 L308.52,743.79 L309.63,742.49 L310.74,741.19 L311.85,739.89 L312.96,738.60 L314.07,737.31 L315.18,736.03 L316.30,734.75 L317.41,733.47 L318.52,732.20 L319.63,730.93 L320.74,729.67 L321.85,728.41 L322.96,727.16 L324.07,725.91 L325.18,724.66 L326.29,723.42 L327.41,722.19 L328.52,720.96 L329.63,719.73 L330.74,718.51 L331.85,717.30 L332.96,716.09 L334.07,714.88 L335.18,713.68 L336.29,712.49 L337.40,711.30 L338.52,710.11 L339.63,708.93 L340.74,707.76 L341.85,706.59 L342.96,705.43 L344.07,704.27 L345.18,703.12 L346.29,701.97 L347.40,700.83 L348.51,699.70 L349.63,698.57 L350.74,697.45 L351.85,696.33 L352.96,695.22 L354.07,694.12 L355.18,693.02 L356.29,691.92 L357.40,690.84 L358.51,689.76 L359.62,688.68 L360.74,687.62 L361.85,686.56 L362.96,685.50 L364.07,684.45 L365.18,683.41 L366.29,682.38 L367.40,681.35 L368.51,680.33 L369.62,679.32 L370.74,678.31 L371.85,677.31 L372.96,676.32 L374.07,675.33 L375.18,674.35 L376.29,673.38 L377.40,672.41 L378.51,671.46 L379.62,670.51 L380.73,669.56 L381.85,668.63 L382.96,667.70 L384.07,666.78 L385.18,665.87 L386.29,664.96 L387.40,664.06 L388.51,663.17 L389.62,662.29 L390.73,661.42 L391.84,660.55 L392.95,659.69 L394.07,658.84 L395.18,658.00 L396.29,657.17 L397.40,656.34 L398.51,655.52 L399.62,654.72 L400.73,653.92 L401.84,653.12 L402.95,652.34 L404.06,651.56 L405.18,650.80 L406.29,650.04 L407.40,649.29 L408.51,648.55 L409.62,647.82 L410.73,647.09 L411.84,646.38 L412.95,645.67 L414.06,644.98 L415.17,644.29 L416.29,643.61 L417.40,642.94 L418.51,642.28 L419.62,641.63 L420.73,640.99 L421.84,640.36 L422.95,639.73 L424.06,639.12 L425.17,638.51 L426.28,637.91 L427.40,637.32 L428.51,636.74 L429.62,636.16 L430.73,635.60 L431.84,635.04 L432.95,634.49 L434.06,633.95 L435.17,633.42 L436.28,632.89 L437.39,632.37 L438.51,631.86 L439.62,631.36 L440.73,630.87 L441.84,630.38 L442.95,629.90 L444.06,629.43 L445.17,628.97 L446.28,628.51 L447.39,628.06 L448.50,627.62 L449.62,627.18 L450.73,626.75 L451.84,626.33 L452.95,625.92 L454.06,625.51 L455.17,625.11 L456.28,624.72 L457.39,624.33 L458.50,623.95 L459.62,623.57 L460.73,623.21 L461.84,622.85 L462.95,622.49 L464.06,622.14 L465.17,621.80 L466.28,621.47 L467.39,621.14 L468.50,620.81 L469.61,620.50 L470.72,620.18 L471.84,619.88 L472.95,619.58 L474.06,619.29 L475.17,619.00 L476.28,618.71 L477.39,618.44 L478.50,618.16 L479.61,617.90 L480.72,617.64 L481.83,617.38 L482.95,617.13 L484.06,616.89 L485.17,616.65 L486.28,616.41 L487.39,616.18 L488.50,615.96 L489.61,615.73 L490.72,615.52 L491.83,615.31 L492.94,615.10 L494.06,614.90 L495.17,614.70 L496.28,614.51 L497.39,614.32 L498.50,614.14 L499.61,613.96 L500.72,613.78 L501.83,613.61 L502.94,613.44 L504.06,613.28 L505.17,613.12 L506.28,612.97 L507.39,612.81 L508.50,612.67 L509.61,612.52 L510.72,612.38 L511.83,612.25 L512.94,612.11 L514.05,611.98 L515.16,611.85 L516.28,611.73 L517.39,611.61 L518.50,611.49 L519.61,611.38 L520.72,611.27 L521.83,611.16 L522.94,611.06 L524.05,610.95 L525.16,610.86 L526.27,610.76 L527.39,610.67 L528.50,610.57 L529.61,610.48 L530.72,610.40 L531.83,610.31 L532.94,610.23 L534.05,610.15 L535.16,610.08 L536.27,610.00 L537.38,609.93 L538.50,609.86 L539.61,609.79 L540.72,609.72 L541.83,609.66 L542.94,609.59 L544.05,609.53 L545.16,609.47 L546.27,609.41 L547.38,609.36 L548.50,609.30 L549.61,609.25 L550.72,609.19 L551.83,609.14 L552.94,609.09 L554.05,609.04 L555.16,609.00 L556.27,608.95 L557.38,608.90 L558.49,608.86 L559.61,608.81 L560.72,608.77 L561.83,608.73 L562.94,608.69 L564.05,608.65 L565.16,608.61 L566.27,608.57 L567.38,608.53 L568.49,608.50 L569.60,608.46 L570.71,608.43 L571.83,608.39 L572.94,608.36 L574.05,608.33 L575.16,608.30 L576.27,608.27 L577.38,608.24 L578.49,608.21 L579.60,608.19 L580.71,608.16 L581.83,608.13 L582.94,608.11 L584.05,608.08 L585.16,608.06 L586.27,608.04 L587.38,608.02 L588.49,608.00 L589.60,607.98 L590.71,607.96 L591.82,607.94 L592.93,607.92 L594.05,607.90 L595.16,607.89 L596.27,607.87 L597.38,607.85 L598.49,607.84 L599.60,607.83 L600.71,607.81 L601.82,607.80 L602.93,607.79 L604.04,607.78 L605.16,607.77 L606.27,607.76 L607.38,607.75 L608.49,607.74 L609.60,607.73 L610.71,607.72 L611.82,607.71 L612.93,607.70 L614.04,607.70 L615.15,607.69 L616.27,607.69 L617.38,607.68 L618.49,607.68 L619.60,607.67 L620.71,607.67 L621.82,607.66 L622.93,607.66 L624.04,607.66 L625.15,607.66 L626.26,607.65 L627.38,607.65 L628.49,607.65 L629.60,607.65 L630.71,607.65 L631.82,607.65 L632.93,607.65 L634.04,607.65 L635.15,607.65 L636.26,607.65 L637.38,607.65 L638.49,607.66 L639.60,607.66 L640.71,607.66 L641.82,607.66 L642.93,607.67 L644.04,607.67 L645.15,607.67 L646.26,607.67 L647.37,607.68 L648.48,607.68 L649.60,607.68 L650.71,607.69 L651.82,607.69 L652.93,607.70 L654.04,607.70 L655.15,607.70 L656.26,607.71 L657.37,607.71 L658.48,607.72 L659.60,607.72 L660.71,607.73 L661.82,607.73 L662.93,607.74 L664.04,607.74 L665.15,607.75 L666.26,607.75 L667.37,607.75 L668.48,607.76 L669.59,607.76 L670.70,607.77 L671.82,607.77 L672.93,607.78 L674.04,607.78 L675.15,607.79 L676.26,607.79 L677.37,607.79 L678.48,607.80 L679.59,607.80 L680.70,607.80 L681.82,607.81 L682.93,607.81 L684.04,607.81 L685.15,607.82 L686.26,607.82 L687.37,607.82 L688.48,607.82 L689.59,607.83 L690.70,607.83 L691.81,607.83 L692.92,607.83 L694.04,607.83 L695.15,607.83 L696.26,607.83 L697.37,607.83 L698.48,607.83 L699.59,607.83 L700.70,607.83 L701.81,607.83 L702.92,607.83 L704.04,607.82 L705.15,607.82 L706.26,607.82 L707.37,607.81 L708.48,607.81 L709.59,607.81 L710.70,607.80 L711.81,607.80 L712.92,607.79 L714.03,607.78 L715.14,607.78 L716.26,607.77 L717.37,607.76 L718.48,607.76 L719.59,607.75 L720.70,607.74 L721.81,607.73 L722.92,607.72 L724.03,607.71 L725.14,607.70 L726.25,607.68 L727.37,607.67 L728.48,607.66 L729.59,607.64 L730.70,607.63 L731.81,607.61 L732.92,607.60 L734.03,607.58 L735.14,607.56 L736.25,607.55 L737.37,607.53 L738.48,607.51 L738.92,607.50" fill="none" stroke="#0000ff" stroke-width="1.75" stroke-linejoin="round"/>
<path d="M165.20,937.70 L166.31,936.25 L167.42,934.81 L168.53,933.35 L169.64,931.89 L170.75,930.43 L171.87,928.97 L172.98,927.50 L174.09,926.03 L175.20,924.55 L176.31,923.07 L177.42,921.59 L178.53,920.11 L179.64,918.62 L180.75,917.14 L181.86,915.65 L182.98,914.16 L184.09,912.66 L185.20,911.17 L186.31,909.68 L187.42,908.18 L188.53,906.69 L189.64,905.19 L190.75,903.70 L191.86,902.20 L192.97,900.71 L194.09,899.21 L195.20,897.72 L196.31,896.22 L197.42,894.73 L198.53,893.24 L199.64,891.75 L200.75,890.27 L201.86,888.78 L202.97,887.30 L204.08,885.82 L205.20,884.34 L206.31,882.86 L207.42,881.39 L208.53,879.92 L209.64,878.46 L210.75,877.00 L211.86,875.54 L212.97,874.09 L214.08,872.64 L215.19,871.19 L216.31,869.75 L217.42,868.32 L218.53,866.89 L219.64,865.46 L220.75,864.04 L221.86,862.63 L222.97,861.22 L224.08,859.82 L225.19,858.43 L226.30,857.03 L227.42,855.65 L228.53,854.27 L229.64,852.89 L230.75,851.52 L231.86,850.15 L232.97,848.79 L234.08,847.43 L235.19,846.08 L236.30,844.73 L237.41,843.38 L238.53,842.04 L239.64,840.70 L240.75,839.36 L241.86,838.03 L242.97,836.70 L244.08,835.38 L245.19,834.05 L246.30,832.73 L247.41,831.41 L248.52,830.10 L249.64,828.78 L250.75,827.47 L251.86,826.16 L252.97,824.86 L254.08,823.55 L255.19,822.25 L256.30,820.94 L257.41,819.64 L258.52,818.34 L259.63,817.04 L260.75,815.74 L261.86,814.44 L262.97,813.15 L264.08,811.85 L265.19,810.55 L266.30,809.26 L267.41,807.96 L268.52,806.66 L269.63,805.36 L270.75,804.07 L271.86,802.77 L272.97,801.47 L274.08,800.17 L275.19,798.87 L276.30,797.57 L277.41,796.26 L278.52,794.96 L279.63,793.65 L280.74,792.34 L281.86,791.04 L282.97,789.73 L284.08,788.42 L285.19,787.11 L286.30,785.80 L287.41,784.49 L288.52,783.18 L289.63,781.87 L290.74,780.55 L291.85,779.24 L292.96,777.93 L294.08,776.62 L295.19,775.31 L296.30,774.00 L297.41,772.69 L298.52,771.38 L299.63,770.07 L300.74,768.76 L301.85,767.45 L302.96,766.14 L304.07,764.84 L305.19,763.53 L306.30,762.23 L307.41,760.93 L308.52,759.62 L309.63,758.33 L310.74,757.03 L311.85,755.73 L312.96,754.44 L314.07,753.14 L315.18,751.85 L316.30,750.56 L317.41,749.27 L318.52,747.99 L319.63,746.71 L320.74,745.43 L321.85,744.15 L322.96,742.87 L324.07,741.60 L325.18,740.33 L326.29,739.06 L327.41,737.80 L328.52,736.54 L329.63,735.28 L330.74,734.03 L331.85,732.77 L332.96,731.53 L334.07,730.28 L335.18,729.04 L336.29,727.80 L337.40,726.57 L338.52,725.34 L339.63,724.11 L340.74,722.89 L341.85,721.67 L342.96,720.46 L344.07,719.25 L345.18,718.05 L346.29,716.85 L347.40,715.65 L348.51,714.46 L349.63,713.27 L350.74,712.09 L351.85,710.92 L352.96,709.75 L354.07,708.58 L355.18,707.42 L356.29,706.26 L357.40,705.11 L358.51,703.97 L359.62,702.83 L360.74,701.70 L361.85,700.57 L362.96,699.45 L364.07,698.33 L365.18,697.22 L366.29,696.12 L367.40,695.02 L368.51,693.93 L369.62,692.85 L370.74,691.77 L371.85,690.70 L372.96,689.64 L374.07,688.58 L375.18,687.53 L376.29,686.49 L377.40,685.45 L378.51,684.42 L379.62,683.40 L380.73,682.39 L381.85,681.38 L382.96,680.38 L384.07,679.39 L385.18,678.41 L386.29,677.43 L387.40,676.46 L388.51,675.50 L389.62,674.55 L390.73,673.61 L391.84,672.67 L392.95,671.75 L394.07,670.83 L395.18,669.92 L396.29,669.02 L397.40,668.13 L398.51,667.24 L399.62,666.37 L400.73,665.51 L401.84,664.65 L402.95,663.80 L404.06,662.97 L405.18,662.14 L406.29,661.32 L407.40,660.51 L408.51,659.71 L409.62,658.92 L410.73,658.14 L411.84,657.37 L412.95,656.62 L414.06,655.87 L415.17,655.13 L416.29,654.40 L417.40,653.68 L418.51,652.97 L419.62,652.28 L420.73,651.59 L421.84,650.91 L422.95,650.24 L424.06,649.58 L425.17,648.94 L426.28,648.30 L427.40,647.67 L428.51,647.05 L429.62,646.44 L430.73,645.84 L431.84,645.24 L432.95,644.66 L434.06,644.09 L435.17,643.52 L436.28,642.97 L437.39,642.42 L438.51,641.88 L439.62,641.35 L440.73,640.83 L441.84,640.32 L442.95,639.81 L444.06,639.32 L445.17,638.83 L446.28,638.35 L447.39,637.88 L448.50,637.41 L449.62,636.96 L450.73,636.51 L451.84,636.07 L452.95,635.64 L454.06,635.22 L455.17,634.80 L456.28,634.39 L457.39,633.99 L458.50,633.59 L459.62,633.21 L460.73,632.83 L461.84,632.45 L462.95,632.09 L464.06,631.73 L465.17,631.38 L466.28,631.03 L467.39,630.69 L468.50,630.36 L469.61,630.03 L470.72,629.71 L471.84,629.40 L472.95,629.10 L474.06,628.80 L475.17,628.50 L476.28,628.21 L477.39,627.93 L478.50,627.66 L479.61,627.39 L480.72,627.12 L481.83,626.86 L482.95,626.61 L484.06,626.36 L485.17,626.12 L486.28,625.88 L487.39,625.65 L488.50,625.43 L489.61,625.20 L490.72,624.99 L491.83,624.78 L492.94,624.57 L494.06,624.37 L495.17,624.17 L496.28,623.98 L497.39,623.79 L498.50,623.61 L499.61,623.43 L500.72,623.26 L501.83,623.09 L502.94,622.92 L504.06,622.76 L505.17,622.60 L506.28,622.45 L507.39,622.30 L508.50,622.15 L509.61,622.01 L510.72,621.87 L511.83,621.74 L512.94,621.61 L514.05,621.48 L515.16,621.35 L516.28,621.23 L517.39,621.11 L518.50,621.00 L519.61,620.89 L520.72,620.78 L521.83,620.67 L522.94,620.57 L524.05,620.47 L525.16,620.37 L526.27,620.27 L527.39,620.18 L528.50,620.09 L529.61,620.00 L530.72,619.91 L531.83,619.83 L532.94,619.75 L534.05,619.67 L535.16,619.59 L536.27,619.51 L537.38,619.44 L538.50,619.37 L539.61,619.29 L540.72,619.22 L541.83,619.16 L542.94,619.09 L544.05,619.02 L545.16,618.96 L546.27,618.90 L547.38,618.83 L548.50,618.77 L549.61,618.71 L550.72,618.65 L551.83,618.59 L552.94,618.53 L554.05,618.48 L555.16,618.42 L556.27,618.36 L557.38,618.31 L558.49,618.25 L559.61,618.20 L560.72,618.14 L561.83,618.09 L562.94,618.04 L564.05,617.98 L565.16,617.93 L566.27,617.88 L567.38,617.83 L568.49,617.78 L569.60,617.73 L570.71,617.68 L571.83,617.63 L572.94,617.58 L574.05,617.53 L575.16,617.48 L576.27,617.44 L577.38,617.39 L578.49,617.34 L579.60,617.30 L580.71,617.25 L581.83,617.21 L582.94,617.16 L584.05,617.12 L585.16,617.08 L586.27,617.03 L587.38,616.99 L588.49,616.95 L589.60,616.91 L590.71,616.87 L591.82,616.83 L592.93,616.79 L594.05,616.75 L595.16,616.71 L596.27,616.68 L597.38,616.64 L598.49,616.60 L599.60,616.56 L600.71,616.53 L601.82,616.49 L602.93,616.46 L604.04,616.42 L605.16,616.39 L606.27,616.36 L607.38,616.32 L608.49,616.29 L609.60,616.26 L610.71,616.23 L611.82,616.20 L612.93,616.17 L614.04,616.14 L615.15,616.11 L616.27,616.08 L617.38,616.05 L618.49,616.02 L619.60,615.99 L620.71,615.97 L621.82,615.94 L622.93,615.91 L624.04,615.89 L625.15,615.86 L626.26,615.84 L627.38,615.81 L628.49,615.79 L629.60,615.77 L630.71,615.74 L631.82,615.72 L632.93,615.70 L634.04,615.68 L635.15,615.66 L636.26,615.64 L637.38,615.62 L638.49,615.60 L639.60,615.58 L640.71,615.56 L641.82,615.54 L642.93,615.52 L644.04,615.50 L645.15,615.49 L646.26,615.47 L647.37,615.46 L648.48,615.44 L649.60,615.42 L650.71,615.41 L651.82,615.40 L652.93,615.38 L654.04,615.37 L655.15,615.36 L656.26,615.34 L657.37,615.33 L658.48,615.32 L659.60,615.31 L660.71,615.30 L661.82,615.29 L662.93,615.28 L664.04,615.27 L665.15,615.26 L666.26,615.25 L667.37,615.25 L668.48,615.24 L669.59,615.23 L670.70,615.23 L671.82,615.22 L672.93,615.21 L674.04,615.21 L675.15,615.20 L676.26,615.20 L677.37,615.20 L678.48,615.19 L679.59,615.19 L680.70,615.19 L681.82,615.18 L682.93,615.18 L684.04,615.18 L685.15,615.18 L686.26,615.18 L687.37,615.18 L688.48,615.18 L689.59,615.18 L690.70,615.18 L691.81,615.18 L692.92,615.19 L694.04,615.19 L695.15,615.19 L696.26,615.19 L697.37,615.20 L698.48,615.20 L699.59,615.21 L700.70,615.21 L701.81,615.22 L702.92,615.22 L704.04,615.23 L705.15,615.24 L706.26,615.24 L707.37,615.25 L708.48,615.26 L709.59,615.27 L710.70,615.28 L711.81,615.28 L712.92,615.29 L714.03,615.30 L715.14,615.31 L716.26,615.32 L717.37,615.34 L718.48,615.35 L719.59,615.36 L720.70,615.37 L721.81,615.38 L722.92,615.40 L724.03,615.41 L725.14,615.42 L726.25,615.44 L727.37,615.45 L728.48,615.47 L729.59,615.48 L730.70,615.50 L731.81,615.52 L732.92,615.53 L734.03,615.55 L735.14,615.57 L736.25,615.58 L737.37,615.60 L738.48,615.62 L738.92,615.63" fill="none" stroke="#008000" stroke-width="1.75" stroke-linejoin="round"/>
<path d="M165.20,937.70 L166.31,936.45 L167.42,935.19 L168.53,933.94 L169.64,932.68 L170.75,931.42 L171.87,930.16 L172.98,928.90 L174.09,927.64 L175.20,926.38 L176.31,925.11 L177.42,923.85 L178.53,922.58 L179.64,921.32 L180.75,920.05 L181.86,918.78 L182.98,917.51 L184.09,916.24 L185.20,914.96 L186.31,913.69 L187.42,912.41 L188.53,911.14 L189.64,909.86 L190.75,908.58 L191.86,907.30 L192.97,906.02 L194.09,904.74 L195.20,903.45 L196.31,902.16 L197.42,900.87 L198.53,899.57 L199.64,898.28 L200.75,896.97 L201.86,895.67 L202.97,894.37 L204.08,893.06 L205.20,891.76 L206.31,890.45 L207.42,889.15 L208.53,887.84 L209.64,886.54 L210.75,885.24 L211.86,883.94 L212.97,882.64 L214.08,881.34 L215.19,880.05 L216.31,878.76 L217.42,877.48 L218.53,876.19 L219.64,874.92 L220.75,873.64 L221.86,872.37 L222.97,871.11 L224.08,869.85 L225.19,868.59 L226.30,867.34 L227.42,866.09 L228.53,864.84 L229.64,863.60 L230.75,862.35 L231.86,861.11 L232.97,859.87 L234.08,858.63 L235.19,857.40 L236.30,856.16 L237.41,854.92 L238.53,853.69 L239.64,852.45 L240.75,851.21 L241.86,849.97 L242.97,848.73 L244.08,847.49 L245.19,846.24 L246.30,844.99 L247.41,843.74 L248.52,842.49 L249.64,841.24 L250.75,839.98 L251.86,838.73 L252.97,837.47 L254.08,836.21 L255.19,834.95 L256.30,833.70 L257.41,832.44 L258.52,831.18 L259.63,829.92 L260.75,828.65 L261.86,827.39 L262.97,826.13 L264.08,824.87 L265.19,823.61 L266.30,822.34 L267.41,821.08 L268.52,819.81 L269.63,818.55 L270.75,817.29 L271.86,816.02 L272.97,814.76 L274.08,813.49 L275.19,812.23 L276.30,810.96 L277.41,809.70 L278.52,808.43 L279.63,807.16 L280.74,805.89 L281.86,804.62 L282.97,803.35 L284.08,802.08 L285.19,800.81 L286.30,799.54 L287.41,798.26 L288.52,796.99 L289.63,795.72 L290.74,794.44 L291.85,793.17 L292.96,791.89 L294.08,790.61 L295.19,789.34 L296.30,788.06 L297.41,786.79 L298.52,785.51 L299.63,784.23 L300.74,782.96 L301.85,781.68 L302.96,780.41 L304.07,779.13 L305.19,777.85 L306.30,776.58 L307.41,775.30 L308.52,774.03 L309.63,772.76 L310.74,771.48 L311.85,770.21 L312.96,768.94 L314.07,767.67 L315.18,766.40 L316.30,765.13 L317.41,763.86 L318.52,762.59 L319.63,761.32 L320.74,760.06 L321.85,758.79 L322.96,757.53 L324.07,756.26 L325.18,755.00 L326.29,753.74 L327.41,752.48 L328.52,751.23 L329.63,749.97 L330.74,748.72 L331.85,747.46 L332.96,746.20 L334.07,744.94 L335.18,743.67 L336.29,742.40 L337.40,741.12 L338.52,739.85 L339.63,738.59 L340.74,737.32 L341.85,736.07 L342.96,734.82 L344.07,733.58 L345.18,732.36 L346.29,731.15 L347.40,729.95 L348.51,728.77 L349.63,727.61 L350.74,726.44 L351.85,725.24 L352.96,724.07 L354.07,722.99 L355.18,722.05 L356.29,721.29 L357.40,720.67 L358.51,720.12 L359.62,719.60 L360.74,719.04 L361.85,718.39 L362.96,717.68 L364.07,716.95 L365.18,716.18 L366.29,715.39 L367.40,714.58 L368.51,713.74 L369.62,712.89 L370.74,712.01 L371.85,711.11 L372.96,710.20 L374.07,709.28 L375.18,708.34 L376.29,707.39 L377.40,706.43 L378.51,705.47 L379.62,704.50 L380.73,703.52 L381.85,702.54 L382.96,701.56 L384.07,700.58 L385.18,699.60 L386.29,698.63 L387.40,697.66 L388.51,696.67 L389.62,695.66 L390.73,694.63 L391.84,693.58 L392.95,692.51 L394.07,691.43 L395.18,690.34 L396.29,689.24 L397.40,688.14 L398.51,687.03 L399.62,685.91 L400.73,684.80 L401.84,683.69 L402.95,682.59 L404.06,681.49 L405.18,680.41 L406.29,679.33 L407.40,678.27 L408.51,677.23 L409.62,676.21 L410.73,675.21 L411.84,674.23 L412.95,673.28 L414.06,672.35 L415.17,671.46 L416.29,670.59 L417.40,669.74 L418.51,668.92 L419.62,668.11 L420.73,667.32 L421.84,666.54 L422.95,665.78 L424.06,665.03 L425.17,664.29 L425.84,661.57 L426.95,660.94 L428.06,660.31 L429.17,659.69 L430.28,659.07 L431.40,658.46 L432.51,657.86 L433.62,657.27 L434.73,656.68 L435.84,656.11 L436.95,655.54 L438.06,654.99 L439.17,654.45 L440.28,653.92 L441.39,653.40 L442.51,652.90 L443.62,652.40 L444.73,651.91 L445.84,651.42 L446.95,650.94 L448.06,650.46 L449.17,649.99 L450.28,649.52 L451.39,649.06 L452.50,648.60 L453.62,648.15 L454.73,647.70 L455.84,647.26 L456.95,646.83 L458.06,646.41 L459.17,645.99 L460.28,645.57 L461.39,645.17 L462.50,644.77 L463.61,644.38 L464.73,644.00 L465.84,643.63 L466.95,643.26 L468.06,642.90 L469.17,642.56 L470.28,642.22 L471.39,641.88 L472.50,641.55 L473.61,641.23 L474.72,640.90 L475.84,640.58 L476.95,640.26 L478.06,639.95 L479.17,639.64 L480.28,639.34 L481.39,639.04 L482.50,638.75 L483.61,638.46 L484.72,638.18 L485.83,637.90 L486.95,637.63 L488.06,637.37 L489.17,637.11 L490.28,636.86 L491.39,636.62 L492.50,636.39 L493.61,636.16 L494.72,635.94 L495.83,635.73 L496.94,635.53 L498.06,635.34 L499.17,635.15 L500.28,634.97 L501.39,634.79 L502.50,634.61 L503.61,634.44 L504.72,634.27 L505.83,634.10 L506.94,633.94 L508.05,633.78 L509.17,633.62 L510.28,633.46 L511.39,633.31 L512.50,633.16 L513.61,633.01 L514.72,632.86 L515.83,632.72 L516.94,632.57 L518.05,632.43 L519.16,632.30 L520.28,632.16 L521.39,632.03 L522.50,631.89 L523.61,631.76 L524.72,631.63 L525.83,631.51 L526.94,631.38 L528.05,631.26 L529.16,631.13 L530.27,631.01 L531.39,630.89 L532.50,630.77 L533.61,630.65 L534.72,630.54 L535.83,630.42 L536.94,630.30 L538.05,630.19 L539.16,630.07 L540.27,629.96 L541.38,629.85 L542.50,629.74 L543.61,629.62 L544.72,629.51 L545.83,629.40 L546.94,629.29 L548.05,629.18 L549.16,629.07 L550.27,628.95 L551.38,628.84 L552.49,628.73 L553.61,628.62 L554.72,628.51 L555.83,628.39 L556.94,628.28 L558.05,628.16 L559.16,628.05 L560.27,627.93 L561.38,627.82 L562.49,627.70 L563.60,627.59 L564.72,627.47 L565.83,627.36 L566.94,627.24 L568.05,627.12 L569.16,627.01 L570.27,626.89 L571.38,626.78 L572.49,626.67 L573.60,626.55 L574.71,626.44 L575.83,626.33 L576.94,626.22 L578.05,626.11 L579.16,626.00 L580.27,625.90 L581.38,625.79 L582.49,625.69 L583.60,625.58 L584.71,625.48 L585.82,625.38 L586.94,625.28 L588.05,625.19 L589.16,625.09 L590.27,625.00 L591.38,624.91 L592.49,624.82 L593.60,624.73 L594.71,624.65 L595.82,624.57 L596.93,624.49 L598.05,624.41 L599.16,624.34 L600.27,624.27 L601.38,624.20 L602.49,624.14 L603.60,624.07 L604.71,624.01 L605.82,623.96 L606.93,623.91 L608.04,623.86 L609.16,623.81 L610.27,623.77 L611.38,623.73 L612.49,623.69 L613.60,623.66 L614.71,623.63 L615.82,623.60 L616.93,623.57 L618.04,623.54 L619.15,623.51 L620.27,623.48 L621.38,623.45 L622.49,623.42 L623.60,623.39 L624.71,623.35 L625.82,623.32 L626.93,623.28 L628.04,623.24 L629.15,623.20 L630.26,623.16 L631.38,623.12 L632.49,623.08 L633.60,623.04 L634.04,623.02 L634.71,623.18 L634.71,635.02 L635.31,635.02 L635.31,627.02 L676.04,627.18 L709.59,626.70 L738.92,625.87" fill="none" stroke="#800080" stroke-width="1.85" stroke-linejoin="round"/>
<path d="M165.20,937.70 L166.31,936.47 L167.42,935.23 L168.53,934.00 L169.64,932.76 L170.75,931.53 L171.87,930.30 L172.98,929.07 L174.09,927.84 L175.20,926.61 L176.31,925.38 L177.42,924.15 L178.53,922.92 L179.64,921.70 L180.75,920.47 L181.86,919.25 L182.98,918.03 L184.09,916.81 L185.20,915.59 L186.31,914.37 L187.42,913.15 L188.53,911.94 L189.64,910.72 L190.75,909.51 L191.86,908.30 L192.97,907.09 L194.09,905.89 L195.20,904.68 L196.31,903.48 L197.42,902.28 L198.53,901.08 L199.64,899.88 L200.75,898.68 L201.86,897.49 L202.97,896.30 L204.08,895.11 L205.20,893.92 L206.31,892.74 L207.42,891.56 L208.53,890.38 L209.64,889.20 L210.75,888.03 L211.86,886.86 L212.97,885.69 L214.08,884.52 L215.19,883.36 L216.31,882.20 L217.42,881.04 L218.53,879.89 L219.64,878.73 L220.75,877.58 L221.86,876.44 L222.97,875.30 L224.08,874.16 L225.19,873.02 L226.30,871.88 L227.42,870.75 L228.53,869.62 L229.64,868.50 L230.75,867.37 L231.86,866.25 L232.97,865.12 L234.08,864.00 L235.19,862.88 L236.30,861.77 L237.41,860.65 L238.53,859.54 L239.64,858.42 L240.75,857.31 L241.86,856.19 L242.97,855.08 L244.08,853.97 L245.19,852.86 L246.30,851.75 L247.41,850.63 L248.52,849.52 L249.64,848.41 L250.75,847.30 L251.86,846.18 L252.97,845.07 L254.08,843.95 L255.19,842.84 L256.30,841.72 L257.41,840.60 L258.52,839.48 L259.63,838.36 L260.75,837.23 L261.86,836.11 L262.97,834.98 L264.08,833.85 L265.19,832.72 L266.30,831.59 L267.41,830.45 L268.52,829.31 L269.63,828.17 L270.75,827.02 L271.86,825.87 L272.97,824.72 L274.08,823.57 L275.19,822.41 L276.30,821.25 L277.41,820.08 L278.52,818.91 L279.63,817.74 L280.74,816.56 L281.86,815.38 L282.97,814.20 L284.08,813.01 L285.19,811.82 L286.30,810.63 L287.41,809.44 L288.52,808.24 L289.63,807.04 L290.74,805.84 L291.85,804.63 L292.96,803.43 L294.08,802.22 L295.19,801.01 L296.30,799.79 L297.41,798.58 L298.52,797.36 L299.63,796.15 L300.74,794.93 L301.85,793.71 L302.96,792.49 L304.07,791.26 L305.19,790.04 L306.30,788.81 L307.41,787.59 L308.52,786.36 L309.63,785.14 L310.74,783.91 L311.85,782.68 L312.96,781.46 L314.07,780.23 L315.18,779.00 L316.30,777.77 L317.41,776.54 L318.52,775.32 L319.63,774.09 L320.74,772.87 L321.85,771.64 L322.96,770.42 L324.07,769.19 L325.18,767.97 L326.29,766.75 L327.41,765.53 L328.52,764.31 L329.63,763.09 L330.74,761.87 L331.85,760.66 L332.96,759.45 L334.07,758.23 L335.18,757.03 L336.29,755.82 L337.40,754.61 L338.52,753.41 L339.63,752.21 L340.74,751.01 L341.85,749.82 L342.96,748.63 L344.07,747.44 L345.18,746.25 L346.29,745.07 L347.40,743.89 L348.51,742.71 L349.63,741.54 L350.74,740.37 L351.85,739.20 L352.96,738.04 L354.07,736.88 L355.18,735.73 L356.29,734.58 L357.40,733.43 L358.51,732.29 L359.62,731.15 L360.74,730.02 L361.85,728.89 L362.96,727.76 L364.07,726.64 L365.18,725.53 L366.29,724.42 L367.40,723.32 L368.51,722.22 L369.62,721.12 L370.74,720.04 L371.85,718.95 L372.96,717.88 L374.07,716.81 L375.18,715.74 L376.29,714.68 L377.40,713.63 L378.51,712.58 L379.62,711.54 L380.73,710.51 L381.85,709.48 L382.96,708.46 L384.07,707.45 L385.18,706.44 L386.29,705.44 L387.40,704.45 L388.51,703.46 L389.62,702.49 L390.73,701.52 L391.84,700.55 L392.95,699.60 L394.07,698.65 L395.18,697.71 L396.29,696.78 L397.40,695.86 L398.51,694.94 L399.62,694.03 L400.73,693.14 L401.84,692.25 L402.95,691.36 L404.06,690.49 L405.18,689.63 L406.29,688.77 L407.40,687.93 L408.51,687.09 L409.62,686.27 L410.73,685.45 L411.84,684.64 L412.95,683.84 L414.06,683.05 L415.17,682.28 L416.29,681.51 L417.40,680.75 L418.51,680.00 L419.62,679.26 L420.73,678.53 L421.84,677.81 L422.95,677.10 L424.06,676.40 L425.17,675.71 L426.28,675.02 L427.40,674.35 L428.51,673.69 L429.62,673.03 L430.73,672.38 L431.84,671.75 L432.95,671.12 L434.06,670.50 L435.17,669.89 L436.28,669.29 L437.39,668.69 L438.51,668.11 L439.62,667.53 L440.73,666.96 L441.84,666.40 L442.95,665.85 L444.06,665.31 L445.17,664.77 L446.28,664.24 L447.39,663.72 L448.50,663.21 L449.62,662.71 L450.73,662.21 L451.84,661.72 L452.95,661.24 L454.06,660.77 L455.17,660.30 L456.28,659.85 L457.39,659.40 L458.50,658.95 L459.62,658.51 L460.73,658.09 L461.84,657.66 L462.95,657.25 L464.06,656.84 L465.17,656.44 L466.28,656.04 L467.39,655.65 L468.50,655.27 L469.61,654.90 L470.72,654.53 L471.84,654.17 L472.95,653.81 L474.06,653.46 L475.17,653.12 L476.28,652.78 L477.39,652.45 L478.50,652.12 L479.61,651.80 L480.72,651.49 L481.83,651.18 L482.95,650.88 L484.06,650.58 L485.17,650.29 L486.28,650.01 L487.39,649.73 L488.50,649.45 L489.61,649.19 L490.72,648.92 L491.83,648.66 L492.94,648.41 L494.06,648.16 L495.17,647.92 L496.28,647.68 L497.39,647.44 L498.50,647.21 L499.61,646.99 L500.72,646.77 L501.83,646.55 L502.94,646.34 L504.06,646.14 L505.17,645.93 L506.28,645.74 L507.39,645.54 L508.50,645.35 L509.61,645.17 L510.72,644.98 L511.83,644.81 L512.94,644.63 L514.05,644.46 L515.16,644.30 L516.28,644.13 L517.39,643.97 L518.50,643.82 L519.61,643.66 L520.72,643.52 L521.83,643.37 L522.94,643.23 L524.05,643.09 L525.16,642.95 L526.27,642.82 L527.39,642.69 L528.50,642.56 L529.61,642.43 L530.72,642.31 L531.83,642.19 L532.94,642.07 L534.05,641.96 L535.16,641.85 L536.27,641.74 L537.38,641.63 L538.50,641.52 L539.61,641.42 L540.72,641.32 L541.83,641.22 L542.94,641.12 L544.05,641.03 L545.16,640.93 L546.27,640.84 L547.38,640.75 L548.50,640.66 L549.61,640.58 L550.72,640.49 L551.83,640.41 L552.94,640.32 L554.05,640.24 L555.16,640.16 L556.27,640.08 L557.38,640.00 L558.49,639.93 L559.61,639.85 L560.72,639.78 L561.83,639.70 L562.94,639.63 L564.05,639.56 L565.16,639.49 L566.27,639.42 L567.38,639.35 L568.49,639.28 L569.60,639.22 L570.71,639.15 L571.83,639.09 L572.94,639.03 L574.05,638.96 L575.16,638.90 L576.27,638.84 L577.38,638.79 L578.49,638.73 L579.60,638.67 L580.71,638.62 L581.83,638.56 L582.94,638.51 L584.05,638.46 L585.16,638.40 L586.27,638.35 L587.38,638.30 L588.49,638.26 L589.60,638.21 L590.71,638.16 L591.82,638.11 L592.93,638.07 L594.05,638.03 L595.16,637.98 L596.27,637.94 L597.38,637.90 L598.49,637.86 L599.60,637.82 L600.71,637.78 L601.82,637.74 L602.93,637.70 L604.04,637.67 L605.16,637.63 L606.27,637.60 L607.38,637.56 L608.49,637.53 L609.60,637.50 L610.71,637.46 L611.82,637.43 L612.93,637.40 L614.04,637.37 L615.15,637.34 L616.27,637.32 L617.38,637.29 L618.49,637.26 L619.60,637.24 L620.71,637.21 L621.82,637.19 L622.93,637.16 L624.04,637.14 L625.15,637.12 L626.26,637.09 L627.38,637.07 L628.49,637.05 L629.60,637.03 L630.71,637.01 L631.82,636.99 L632.93,636.98 L634.04,636.96 L635.15,636.94 L636.26,636.92 L637.38,636.91 L638.49,636.89 L639.60,636.88 L640.71,636.86 L641.82,636.85 L642.93,636.84 L644.04,636.82 L645.15,636.81 L646.26,636.80 L647.37,636.79 L648.48,636.78 L649.60,636.77 L650.71,636.76 L651.82,636.75 L652.93,636.74 L654.04,636.73 L655.15,636.72 L656.26,636.71 L657.37,636.71 L658.48,636.70 L659.60,636.69 L660.71,636.69 L661.82,636.68 L662.93,636.68 L664.04,636.67 L665.15,636.67 L666.26,636.66 L667.37,636.66 L668.48,636.66 L669.59,636.65 L670.70,636.65 L671.82,636.65 L672.93,636.64 L674.04,636.64 L675.15,636.64 L676.26,636.64 L677.37,636.64 L678.48,636.64 L679.59,636.64 L680.70,636.63 L681.82,636.63 L682.93,636.63 L684.04,636.63 L685.15,636.63 L686.26,636.63 L687.37,636.64 L688.48,636.64 L689.59,636.64 L690.70,636.64 L691.81,636.64 L692.92,636.64 L694.04,636.64 L695.15,636.64 L696.26,636.65 L697.37,636.65 L698.48,636.65 L699.59,636.65 L700.70,636.65 L701.81,636.66 L702.92,636.66 L704.04,636.66 L705.15,636.66 L706.26,636.67 L707.37,636.67 L708.48,636.67 L709.59,636.67 L710.70,636.67 L711.81,636.68 L712.92,636.68 L714.03,636.68 L715.14,636.68 L716.26,636.69 L717.37,636.69 L718.48,636.69 L719.59,636.69 L720.70,636.70 L721.81,636.70 L722.92,636.70 L724.03,636.70 L725.14,636.70 L726.25,636.70 L727.37,636.71 L728.48,636.71 L729.59,636.71 L730.70,636.71 L731.81,636.71 L732.92,636.71 L734.03,636.71 L735.14,636.71 L736.25,636.71 L737.37,636.71 L738.48,636.71 L738.92,636.71" fill="none" stroke="#008080" stroke-width="1.75" stroke-linejoin="round"/>
<path d="M165.20,937.70 L166.31,937.00 L167.42,936.30 L168.53,935.60 L169.64,934.90 L170.75,934.20 L171.87,933.50 L172.98,932.80 L174.09,932.10 L175.20,931.39 L176.31,930.69 L177.42,929.99 L178.53,929.29 L179.64,928.59 L180.75,927.88 L181.86,927.18 L182.98,926.48 L184.09,925.77 L185.20,925.07 L186.31,924.36 L187.20,923.80" fill="none" stroke="#ff00ff" stroke-width="1.9"/>
<path d="M194.55,919.13 L195.66,918.42 L196.77,917.71 L197.89,917.00 L199.00,916.29 L200.11,915.58 L201.22,914.86 L202.33,914.15 L203.44,913.44 L204.55,912.73 L205.66,912.01 L206.77,911.30 L207.88,910.58 L209.00,909.86 L210.11,909.14 L211.22,908.42 L212.33,907.70 L213.44,906.98 L214.55,906.26 L215.66,905.53 L216.55,904.95" fill="none" stroke="#ff00ff" stroke-width="1.9"/>
<path d="M223.91,900.08 L225.02,899.37 L226.13,898.66 L227.24,897.97 L228.35,897.28 L229.46,896.60 L230.57,895.93 L231.68,895.26 L232.79,894.58 L233.90,893.91 L235.02,893.24 L236.13,892.57 L237.24,891.89 L238.35,891.21 L239.46,890.52 L240.57,889.82 L241.68,889.12 L242.79,888.40 L243.90,887.67 L245.01,886.94 L245.90,886.33" fill="none" stroke="#ff00ff" stroke-width="1.9"/>
<path d="M253.26,881.02 L254.37,880.27 L255.48,879.53 L256.59,878.80 L257.70,878.08 L258.81,877.36 L259.92,876.65 L261.03,875.95 L262.15,875.25 L263.26,874.55 L264.37,873.86 L265.48,873.17 L266.59,872.49 L267.70,871.80 L268.81,871.12 L269.92,870.43 L271.03,869.75 L272.14,869.06 L273.26,868.37 L274.37,867.67 L275.26,867.11" fill="none" stroke="#ff00ff" stroke-width="1.9"/>
<path d="M282.61,862.59 L283.72,861.93 L284.83,861.28 L285.94,860.63 L287.05,859.99 L288.17,859.34 L289.28,858.70 L290.39,858.07 L291.50,857.44 L292.61,856.81 L293.72,856.19 L294.83,855.57 L295.94,854.95 L297.05,854.34 L298.16,853.73 L299.28,853.12 L300.39,852.52 L301.50,851.92 L302.61,851.33 L303.72,850.74 L304.61,850.27" fill="none" stroke="#ff00ff" stroke-width="1.9"/>
<path d="M311.96,846.57 L313.07,846.03 L314.19,845.50 L315.30,844.98 L316.41,844.45 L317.52,843.94 L318.63,843.42 L319.74,842.91 L320.85,842.40 L321.96,841.90 L323.07,841.40 L324.18,840.90 L325.30,840.40 L326.41,839.91 L327.52,839.41 L328.63,838.92 L329.74,838.43 L330.85,837.94 L331.96,837.45 L333.07,836.96 L333.96,836.57" fill="none" stroke="#ff00ff" stroke-width="1.9"/>
<path d="M341.32,833.35 L342.43,832.94 L343.54,832.57 L344.65,832.21 L345.76,831.87 L346.87,831.54 L347.98,831.22 L349.09,830.91 L350.20,830.61 L351.31,830.32 L352.43,830.04 L353.54,829.76 L354.65,829.48 L355.76,829.21 L356.87,828.93 L357.98,828.66 L359.09,828.38 L360.20,828.10 L361.31,827.82 L362.42,827.53 L363.31,827.29" fill="none" stroke="#ff00ff" stroke-width="1.9"/>
<path d="M370.67,825.13 L371.78,824.91 L372.89,824.71 L374.00,824.52 L375.11,824.33 L376.22,824.16 L377.33,824.00 L378.45,823.84 L379.56,823.70 L380.67,823.56 L381.78,823.42 L382.89,823.29 L384.00,823.16 L385.11,823.03 L386.22,822.90 L387.33,822.78 L388.44,822.65 L389.56,822.52 L390.67,822.38 L391.78,822.25 L392.67,822.13" fill="none" stroke="#ff00ff" stroke-width="1.9"/>
<path d="M400.02,821.17 L401.13,821.05 L402.24,820.94 L403.35,820.84 L404.46,820.74 L405.58,820.64 L406.69,820.55 L407.80,820.45 L408.91,820.37 L410.02,820.28 L411.13,820.19 L412.24,820.11 L413.35,820.02 L414.46,819.93 L415.57,819.85 L416.69,819.76 L417.80,819.67 L418.91,819.58 L420.02,819.48 L421.13,819.38 L422.02,819.30" fill="none" stroke="#ff00ff" stroke-width="1.9"/>
<path d="M429.37,818.55 L430.48,818.47 L431.60,818.39 L432.71,818.31 L433.82,818.24 L434.93,818.17 L436.04,818.10 L437.15,818.03 L438.26,817.97 L439.37,817.90 L440.48,817.84 L441.59,817.78 L442.71,817.73 L443.82,817.67 L444.93,817.62 L446.04,817.57 L447.15,817.52 L448.26,817.47 L449.37,817.42 L450.48,817.37 L451.37,817.34" fill="none" stroke="#ff00ff" stroke-width="1.9"/>
<path d="M458.73,817.07 L459.84,817.03 L460.95,816.99 L462.06,816.96 L463.17,816.92 L464.28,816.89 L465.39,816.85 L466.50,816.82 L467.61,816.79 L468.73,816.75 L469.84,816.72 L470.95,816.69 L472.06,816.67 L473.17,816.64 L474.28,816.61 L475.39,816.58 L476.50,816.56 L477.61,816.53 L478.72,816.51 L479.84,816.49 L480.72,816.47" fill="none" stroke="#ff00ff" stroke-width="1.9"/>
<path d="M488.08,816.34 L489.19,816.33 L490.30,816.31 L491.41,816.29 L492.52,816.27 L493.63,816.25 L494.74,816.23 L495.86,816.21 L496.97,816.20 L498.08,816.18 L499.19,816.16 L500.30,816.14 L501.41,816.12 L502.52,816.11 L503.63,816.09 L504.74,816.07 L505.85,816.06 L506.97,816.04 L508.08,816.02 L509.19,816.01 L510.08,815.99" fill="none" stroke="#ff00ff" stroke-width="1.9"/>
<path d="M517.43,815.89 L518.54,815.88 L519.65,815.87 L520.76,815.85 L521.88,815.84 L522.99,815.83 L524.10,815.81 L525.21,815.80 L526.32,815.79 L527.43,815.78 L528.54,815.77 L529.65,815.76 L530.76,815.75 L531.87,815.74 L532.99,815.73 L534.10,815.72 L535.21,815.71 L536.32,815.70 L537.43,815.69 L538.54,815.69 L539.43,815.68" fill="none" stroke="#ff00ff" stroke-width="1.9"/>
<path d="M546.78,815.65 L547.90,815.64 L549.01,815.64 L550.12,815.64 L551.23,815.64 L552.34,815.64 L553.45,815.64 L554.56,815.64 L555.67,815.64 L556.78,815.64 L557.89,815.64 L559.01,815.64 L560.12,815.64 L561.23,815.64 L562.34,815.64 L563.45,815.64 L564.56,815.64 L565.67,815.64 L566.78,815.64 L567.89,815.64 L568.78,815.64" fill="none" stroke="#ff00ff" stroke-width="1.9"/>
<path d="M565.16,815.64 L566.27,815.64 L567.38,815.64 L568.49,815.64 L569.60,815.64 L570.71,815.64 L571.83,815.64 L572.94,815.64 L574.05,815.64 L575.16,815.64 L576.27,815.64 L577.38,815.64 L578.49,815.64 L579.60,815.64 L580.71,815.64 L581.83,815.64 L582.94,815.64 L584.05,815.64 L585.16,815.64 L586.27,815.64 L587.16,815.64" fill="none" stroke="#ff00ff" stroke-width="1.9"/>
<path d="M594.51,815.64 L595.62,815.64 L596.73,815.64 L597.85,815.64 L598.96,815.64 L600.07,815.64 L601.18,815.64 L602.29,815.64 L603.40,815.64 L604.51,815.64 L605.62,815.64 L606.73,815.64 L607.84,815.64 L608.96,815.64 L610.07,815.64 L611.18,815.64 L612.29,815.64 L613.40,815.64 L614.51,815.64 L615.62,815.64 L616.51,815.64" fill="none" stroke="#ff00ff" stroke-width="1.9"/>
<path d="M623.87,815.64 L624.98,815.64 L626.09,815.64 L627.20,815.64 L628.31,815.64 L629.42,815.64 L630.53,815.64 L631.64,815.64 L632.75,815.64 L633.86,815.64 L634.98,815.64 L636.09,815.64 L637.20,815.64 L638.31,815.64 L639.42,815.64 L640.53,815.64 L641.64,815.64 L642.75,815.64 L643.86,815.64 L644.97,815.64 L645.86,815.64" fill="none" stroke="#ff00ff" stroke-width="1.9"/>
<path d="M653.22,815.64 L654.33,815.64 L655.44,815.64 L656.55,815.64 L657.66,815.64 L658.77,815.64 L659.88,815.64 L660.99,815.64 L662.11,815.64 L663.22,815.64 L664.33,815.64 L665.44,815.64 L666.55,815.64 L667.66,815.64 L668.77,815.64 L669.88,815.64 L670.99,815.64 L672.10,815.64 L673.22,815.64 L674.33,815.64 L675.22,815.64" fill="none" stroke="#ff00ff" stroke-width="1.9"/>
<path d="M682.57,815.64 L683.68,815.64 L684.79,815.64 L685.90,815.64 L687.01,815.64 L688.13,815.64 L689.24,815.64 L690.35,815.64 L691.46,815.64 L692.57,815.64 L693.68,815.64 L694.79,815.64 L695.90,815.64 L697.01,815.64 L698.12,815.64 L699.24,815.64 L700.35,815.64 L701.46,815.64 L702.57,815.64 L703.68,815.64 L704.57,815.64" fill="none" stroke="#ff00ff" stroke-width="1.9"/>
<path d="M711.92,815.64 L713.03,815.64 L714.15,815.64 L715.26,815.64 L716.37,815.64 L717.48,815.64 L718.59,815.64 L719.70,815.64 L720.81,815.64 L721.92,815.64 L723.03,815.64 L724.14,815.64 L725.26,815.64 L726.37,815.64 L727.48,815.64 L728.59,815.64 L729.70,815.64 L730.81,815.64 L731.92,815.64 L733.03,815.64 L733.92,815.64" fill="none" stroke="#ff00ff" stroke-width="1.9"/>
<path d="M741.28,815.64 L742.39,815.64 L742.48,815.64" fill="none" stroke="#ff00ff" stroke-width="1.9"/>
<line x1="632.0" y1="575.9" x2="632.0" y2="937.7" stroke="#000" stroke-width="1.5" stroke-dasharray="11.4 3.5"/>
<line x1="631.1" y1="534.7" x2="631.1" y2="560" stroke="#000" stroke-width="1.9"/>
<path d="M622.0,559 L640.2,559 L631.1,575.6 Z" fill="#000"/>
<line x1="743.0" y1="522.1" x2="743.0" y2="937.7" stroke="#3a3a3a" stroke-width="1.3"/>
<line x1="164.35" y1="522.1" x2="743.6" y2="522.1" stroke="#000" stroke-width="1.7"/>
<line x1="165.2" y1="522.1" x2="165.2" y2="944.0" stroke="#000" stroke-width="1.8"/>
<line x1="158.89999999999998" y1="937.7" x2="743.6" y2="937.7" stroke="#000" stroke-width="1.9"/>
<line x1="158.89999999999998" y1="873.71" x2="165.2" y2="873.71" stroke="#000" stroke-width="1.5"/>
<line x1="158.89999999999998" y1="809.72" x2="165.2" y2="809.72" stroke="#000" stroke-width="1.5"/>
<line x1="158.89999999999998" y1="745.72" x2="165.2" y2="745.72" stroke="#000" stroke-width="1.5"/>
<line x1="158.89999999999998" y1="681.73" x2="165.2" y2="681.73" stroke="#000" stroke-width="1.5"/>
<line x1="158.89999999999998" y1="617.74" x2="165.2" y2="617.74" stroke="#000" stroke-width="1.5"/>
<line x1="158.89999999999998" y1="553.75" x2="165.2" y2="553.75" stroke="#000" stroke-width="1.5"/>
<line x1="276.30" y1="937.7" x2="276.30" y2="944.0" stroke="#000" stroke-width="1.5"/>
<line x1="387.40" y1="937.7" x2="387.40" y2="944.0" stroke="#000" stroke-width="1.5"/>
<line x1="498.50" y1="937.7" x2="498.50" y2="944.0" stroke="#000" stroke-width="1.5"/>
<line x1="609.60" y1="937.7" x2="609.60" y2="944.0" stroke="#000" stroke-width="1.5"/>
<line x1="720.70" y1="937.7" x2="720.70" y2="944.0" stroke="#000" stroke-width="1.5"/>
<text transform="translate(152.3,944.15) scale(1.0,1)" font-size="15.8" text-anchor="end">0</text>
<text transform="translate(152.3,880.16) scale(1.0,1)" font-size="15.8" text-anchor="end">20</text>
<text transform="translate(152.3,816.17) scale(1.0,1)" font-size="15.8" text-anchor="end">40</text>
<text transform="translate(152.3,752.17) scale(1.0,1)" font-size="15.8" text-anchor="end">60</text>
<text transform="translate(152.3,688.18) scale(1.0,1)" font-size="15.8" text-anchor="end">80</text>
<text transform="translate(152.3,624.19) scale(1.0,1)" font-size="15.8" text-anchor="end">100</text>
<text transform="translate(152.3,560.20) scale(1.0,1)" font-size="15.8" text-anchor="end">120</text>
<text transform="translate(165.20,967.6) scale(1.0,1)" font-size="15.8" text-anchor="middle">0</text>
<text transform="translate(276.30,967.6) scale(1.0,1)" font-size="15.8" text-anchor="middle">50</text>
<text transform="translate(387.40,967.6) scale(1.0,1)" font-size="15.8" text-anchor="middle">100</text>
<text transform="translate(498.50,967.6) scale(1.0,1)" font-size="15.8" text-anchor="middle">150</text>
<text transform="translate(609.60,967.6) scale(1.0,1)" font-size="15.8" text-anchor="middle">200</text>
<text transform="translate(720.70,967.6) scale(1.0,1)" font-size="15.8" text-anchor="middle">250</text>
<rect x="180.2" y="528.0" width="90.10000000000002" height="152.0" fill="#fff" stroke="#000" stroke-width="1.6"/>
<line x1="191.2" y1="549.6" x2="229.3" y2="549.6" stroke="#222" stroke-width="1.0"/>
<text x="238.3" y="555.4" font-size="14.3">f1</text>
<line x1="191.2" y1="570.8" x2="229.3" y2="570.8" stroke="#ff0000" stroke-width="1.6"/>
<text x="238.3" y="576.5999999999999" font-size="14.3">f3</text>
<line x1="191.2" y1="593.3" x2="229.3" y2="593.3" stroke="#0000ff" stroke-width="1.6"/>
<text x="238.3" y="599.0999999999999" font-size="14.3">f5</text>
<line x1="191.2" y1="615.3" x2="229.3" y2="615.3" stroke="#008000" stroke-width="1.6"/>
<text x="238.3" y="621.0999999999999" font-size="14.3">f7</text>
<line x1="191.2" y1="637.2" x2="229.3" y2="637.2" stroke="#800080" stroke-width="1.6"/>
<text x="238.3" y="643.0" font-size="14.3">f9</text>
<line x1="191.2" y1="659.2" x2="229.3" y2="659.2" stroke="#008080" stroke-width="1.6"/>
<text x="238.3" y="665.0" font-size="14.3">f11</text>
<text class="se" x="93.6" y="43.1" font-size="21.5" font-style="italic">Γ</text>
<text transform="translate(108.6,42.8) scale(1.045,1)" font-size="18">[mg/m<tspan font-size="12" dy="-8.6">2</tspan><tspan dy="8.6">]</tspan></text>
<text x="680.0" y="490.5" font-size="18">t [min]</text>
<text class="se" x="80.6" y="535.6" font-size="21.5" font-style="italic">Γ</text>
<text transform="translate(96.2,535.5) scale(1.05,1)" font-size="18">[mg/m<tspan font-size="12" dy="-8.6">2</tspan><tspan dy="8.6">]</tspan></text>
<text x="697.6" y="993.2" font-size="18">t [min]</text>
<text class="se" font-size="27" y="52"><tspan x="6.5">(</tspan><tspan x="15.2" font-weight="bold">a</tspan><tspan x="28">)</tspan></text>
<text class="se" font-size="27" y="561"><tspan x="6.5">(</tspan><tspan x="31.5">)</tspan></text>
<text class="se" font-size="27.5" font-weight="bold" transform="translate(14.9,561) scale(1.1,1)">b</text>
<circle cx="742.7" cy="307.65" r="5.1" fill="#ff00ff"/>
<line x1="736.8" y1="302.1" x2="749.8" y2="302.1" stroke="#ff00ff" stroke-width="1.8"/>
<line x1="736.8" y1="313.6" x2="749.8" y2="313.6" stroke="#ff00ff" stroke-width="1.8"/>
</svg></body></html>
